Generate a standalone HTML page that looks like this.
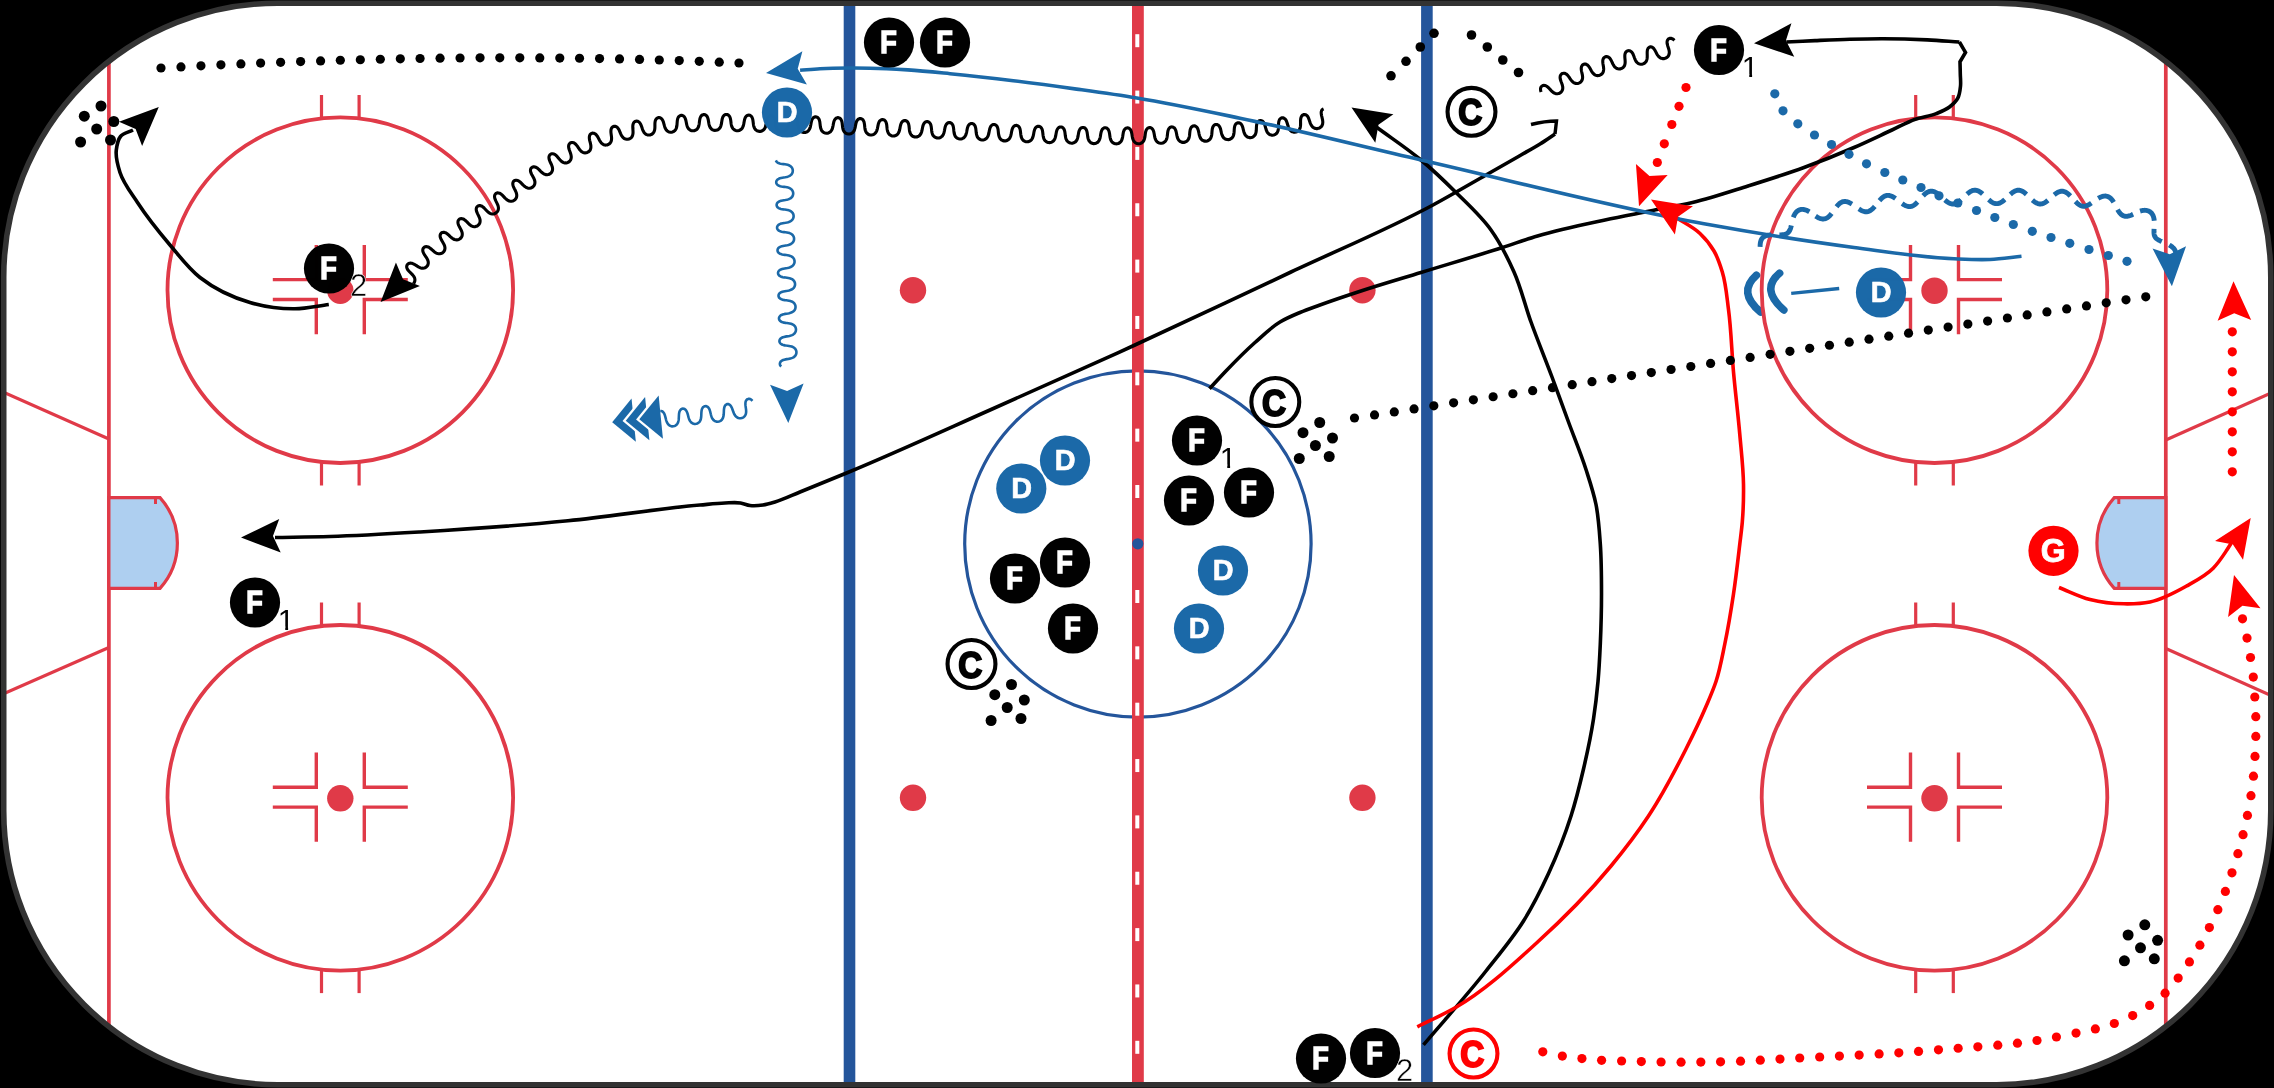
<!DOCTYPE html><html><head><meta charset="utf-8"><title>Hockey drill</title>
<style>html,body{margin:0;padding:0;background:#000;overflow:hidden;}svg{display:block;}text{font-family:"Liberation Sans",sans-serif;}</style></head><body>
<svg width="2274" height="1088" viewBox="0 0 2274 1088">
<rect width="2274" height="1088" fill="#000"/>
<defs><clipPath id="rc"><rect x="3.7" y="3.2" width="2267.1" height="1081.5" rx="274" ry="274"/></clipPath><clipPath id="c1"><path d="M0,-30H20V-3.1H10.3V2H7.45V-3.1H0Z"/></clipPath></defs>
<rect x="3.7" y="3.2" width="2267.1" height="1081.5" rx="274" ry="274" fill="#fff"/>
<g clip-path="url(#rc)">
<g stroke="#e03a48" stroke-width="3.7" fill="none">
<line x1="108.9" y1="0" x2="108.9" y2="1088"/>
<line x1="2165.8" y1="0" x2="2165.8" y2="1088"/>
</g>
<g stroke="#e03a48" stroke-width="3.2" fill="none">
<line x1="2" y1="391.5" x2="108.9" y2="439"/>
<line x1="2" y1="694.5" x2="108.9" y2="647.5"/>
<line x1="2165.8" y1="440" x2="2272" y2="392.5"/>
<line x1="2165.8" y1="648.5" x2="2272" y2="696"/>
</g>
<g stroke="#e03a48" stroke-width="3.2" fill="#aecff0" stroke-linejoin="miter">
<path d="M108.9,497.6L160,497.6A68,68 0 0 1 160,588.4L108.9,588.4Z"/>
<path d="M2165.8,497.6L2114.3,497.6A68,68 0 0 0 2114.3,588.4L2165.8,588.4Z"/>
</g>
<g stroke="#e03a48" stroke-width="3" fill="none">
<line x1="155.5" y1="497.5" x2="155.5" y2="504"/><line x1="155.5" y1="582" x2="155.5" y2="588.5"/>
<line x1="2118.8" y1="497.5" x2="2118.8" y2="504"/><line x1="2118.8" y1="582" x2="2118.8" y2="588.5"/>
</g>
<path d="M1756.5,275.2Q1737,292.4 1760.6,312" fill="none" stroke="#1b69a8" stroke-width="7.6" stroke-linecap="round"/>
<path d="M1779.6,273.2Q1760.1,289.4 1783.8,310" fill="none" stroke="#1b69a8" stroke-width="7.6" stroke-linecap="round"/>
<circle cx="340.3" cy="290.2" r="172.8" fill="none" stroke="#e03a48" stroke-width="3.8"/><g stroke="#e03a48" stroke-width="3.2" fill="none"><line x1="321.5" y1="94.9" x2="321.5" y2="117.4"/><line x1="321.5" y1="463" x2="321.5" y2="485.5"/><line x1="359.1" y1="94.9" x2="359.1" y2="117.4"/><line x1="359.1" y1="463" x2="359.1" y2="485.5"/></g><g stroke="#e03a48" stroke-width="3.4" fill="none"><path d="M272.8,279.65L316.3,279.65L316.3,245"/><path d="M272.8,299.55L316.3,299.55L316.3,334.2"/><path d="M407.8,279.65L364.3,279.65L364.3,245"/><path d="M407.8,299.55L364.3,299.55L364.3,334.2"/></g><circle cx="340.3" cy="290.7" r="13.2" fill="#e03a48"/>
<circle cx="340.3" cy="797.8" r="172.8" fill="none" stroke="#e03a48" stroke-width="3.8"/><g stroke="#e03a48" stroke-width="3.2" fill="none"><line x1="321.5" y1="602.5" x2="321.5" y2="625"/><line x1="321.5" y1="970.6" x2="321.5" y2="993.1"/><line x1="359.1" y1="602.5" x2="359.1" y2="625"/><line x1="359.1" y1="970.6" x2="359.1" y2="993.1"/></g><g stroke="#e03a48" stroke-width="3.4" fill="none"><path d="M272.8,787.25L316.3,787.25L316.3,752.6"/><path d="M272.8,807.15L316.3,807.15L316.3,841.8"/><path d="M407.8,787.25L364.3,787.25L364.3,752.6"/><path d="M407.8,807.15L364.3,807.15L364.3,841.8"/></g><circle cx="340.3" cy="798.3" r="13.2" fill="#e03a48"/>
<circle cx="1934.5" cy="290.2" r="172.8" fill="none" stroke="#e03a48" stroke-width="3.8"/><g stroke="#e03a48" stroke-width="3.2" fill="none"><line x1="1915.7" y1="94.9" x2="1915.7" y2="117.4"/><line x1="1915.7" y1="463" x2="1915.7" y2="485.5"/><line x1="1953.3" y1="94.9" x2="1953.3" y2="117.4"/><line x1="1953.3" y1="463" x2="1953.3" y2="485.5"/></g><g stroke="#e03a48" stroke-width="3.4" fill="none"><path d="M1867,279.65L1910.5,279.65L1910.5,245"/><path d="M1867,299.55L1910.5,299.55L1910.5,334.2"/><path d="M2002,279.65L1958.5,279.65L1958.5,245"/><path d="M2002,299.55L1958.5,299.55L1958.5,334.2"/></g><circle cx="1934.5" cy="290.7" r="13.2" fill="#e03a48"/>
<circle cx="1934.5" cy="797.8" r="172.8" fill="none" stroke="#e03a48" stroke-width="3.8"/><g stroke="#e03a48" stroke-width="3.2" fill="none"><line x1="1915.7" y1="602.5" x2="1915.7" y2="625"/><line x1="1915.7" y1="970.6" x2="1915.7" y2="993.1"/><line x1="1953.3" y1="602.5" x2="1953.3" y2="625"/><line x1="1953.3" y1="970.6" x2="1953.3" y2="993.1"/></g><g stroke="#e03a48" stroke-width="3.4" fill="none"><path d="M1867,787.25L1910.5,787.25L1910.5,752.6"/><path d="M1867,807.15L1910.5,807.15L1910.5,841.8"/><path d="M2002,787.25L1958.5,787.25L1958.5,752.6"/><path d="M2002,807.15L1958.5,807.15L1958.5,841.8"/></g><circle cx="1934.5" cy="798.3" r="13.2" fill="#e03a48"/>
<circle cx="913" cy="290.2" r="13.2" fill="#e03a48"/>
<circle cx="913" cy="797.8" r="13.2" fill="#e03a48"/>
<circle cx="1362.4" cy="290.2" r="13.2" fill="#e03a48"/>
<circle cx="1362.4" cy="797.8" r="13.2" fill="#e03a48"/>
<rect x="843.7" y="0" width="11.6" height="1088" fill="#24559b"/>
<rect x="1421.1" y="0" width="11.6" height="1088" fill="#24559b"/>
<circle cx="1137.9" cy="544" r="173.2" fill="none" stroke="#24559b" stroke-width="3.2"/>
<rect x="1132" y="0" width="11.8" height="1088" fill="#e03a48"/>
<g fill="#fff"><rect x="1135.3" y="590" width="4" height="13"/><rect x="1135.3" y="485" width="4" height="13"/><rect x="1135.3" y="646.35" width="4" height="13"/><rect x="1135.3" y="428.65" width="4" height="13"/><rect x="1135.3" y="702.7" width="4" height="13"/><rect x="1135.3" y="372.3" width="4" height="13"/><rect x="1135.3" y="759.05" width="4" height="13"/><rect x="1135.3" y="315.95" width="4" height="13"/><rect x="1135.3" y="815.4" width="4" height="13"/><rect x="1135.3" y="259.6" width="4" height="13"/><rect x="1135.3" y="871.75" width="4" height="13"/><rect x="1135.3" y="203.25" width="4" height="13"/><rect x="1135.3" y="928.1" width="4" height="13"/><rect x="1135.3" y="146.9" width="4" height="13"/><rect x="1135.3" y="984.45" width="4" height="13"/><rect x="1135.3" y="90.55" width="4" height="13"/><rect x="1135.3" y="1040.8" width="4" height="13"/><rect x="1135.3" y="34.2" width="4" height="13"/></g>
<circle cx="1137.8" cy="543.8" r="5.6" fill="#24559b"/>
</g>
<rect x="3.7" y="3.2" width="2267.1" height="1081.5" rx="274" ry="274" fill="none" stroke="#333" stroke-width="5.6"/>
<g fill="none" stroke-linecap="butt" stroke-linejoin="round">
<g fill="#000"><circle cx="161" cy="68" r="4.6"/><circle cx="180.97" cy="66.9" r="4.6"/><circle cx="200.94" cy="65.86" r="4.6"/><circle cx="220.92" cy="64.87" r="4.6"/><circle cx="240.9" cy="63.95" r="4.6"/><circle cx="260.63" cy="63.1" r="4.6"/><circle cx="280.61" cy="62.29" r="4.6"/><circle cx="300.6" cy="61.55" r="4.6"/><circle cx="320.59" cy="60.88" r="4.6"/><circle cx="340.33" cy="60.27" r="4.6"/><circle cx="360.32" cy="59.73" r="4.6"/><circle cx="380.31" cy="59.24" r="4.6"/><circle cx="400.31" cy="58.83" r="4.6"/><circle cx="420.06" cy="58.49" r="4.6"/><circle cx="440.06" cy="58.21" r="4.6"/><circle cx="460.05" cy="58" r="4.6"/><circle cx="480.05" cy="57.86" r="4.6"/><circle cx="499.8" cy="57.8" r="4.6"/><circle cx="519.8" cy="57.81" r="4.6"/><circle cx="539.8" cy="57.89" r="4.6"/><circle cx="559.8" cy="58.04" r="4.6"/><circle cx="579.55" cy="58.27" r="4.6"/><circle cx="599.55" cy="58.58" r="4.6"/><circle cx="619.55" cy="58.97" r="4.6"/><circle cx="639.54" cy="59.44" r="4.6"/><circle cx="659.28" cy="59.98" r="4.6"/><circle cx="679.27" cy="60.61" r="4.6"/><circle cx="699.26" cy="61.33" r="4.6"/><circle cx="719.24" cy="62.13" r="4.6"/><circle cx="738.97" cy="63" r="4.6"/></g>
<g fill="#000"><circle cx="101" cy="106" r="5.5"/><circle cx="84.3" cy="116.2" r="5.5"/><circle cx="113.8" cy="121.5" r="5.5"/><circle cx="96.7" cy="129" r="5.5"/><circle cx="80.6" cy="142" r="5.5"/><circle cx="110.5" cy="140" r="5.5"/></g>
<g fill="#000"><circle cx="1319.7" cy="422.5" r="5.5"/><circle cx="1303" cy="432.7" r="5.5"/><circle cx="1332.5" cy="438" r="5.5"/><circle cx="1315.4" cy="445.5" r="5.5"/><circle cx="1299.3" cy="458.5" r="5.5"/><circle cx="1329.2" cy="456.5" r="5.5"/></g>
<g fill="#000"><circle cx="1011.5" cy="684.5" r="5.5"/><circle cx="994.8" cy="694.7" r="5.5"/><circle cx="1024.3" cy="700" r="5.5"/><circle cx="1007.2" cy="707.5" r="5.5"/><circle cx="991.1" cy="720.5" r="5.5"/><circle cx="1021" cy="718.5" r="5.5"/></g>
<g fill="#000"><circle cx="2144.8" cy="924.8" r="5.5"/><circle cx="2128.1" cy="935" r="5.5"/><circle cx="2157.6" cy="940.3" r="5.5"/><circle cx="2140.5" cy="947.8" r="5.5"/><circle cx="2124.4" cy="960.8" r="5.5"/><circle cx="2154.3" cy="958.8" r="5.5"/></g>
<path d="M328.8,304.5C317.53,305.93 306.26,308.66 295,308.8C279.99,308.99 264.35,306.7 250,302.5C232.35,297.34 214.42,288.83 200,277.5C188.59,268.54 179.53,256.23 170,245C158.48,231.41 147.21,217.42 137.5,202.5C131.19,192.82 123.45,183.36 120,172.5C117.74,165.37 115.38,157.35 116.3,150C116.87,145.44 117.71,139.84 120.5,136.5C123.28,133.18 128.83,132.17 133,130" stroke="#000" stroke-width="3.6"/>

<path d="M1323.58,108.93L1322.82,109.24L1322.19,109.75L1321.7,110.44L1321.37,111.28L1321.21,112.27L1321.22,113.37L1321.36,114.57L1321.62,115.84L1321.95,117.17L1322.28,118.54L1322.56,119.93L1322.75,121.3L1322.78,122.65L1322.62,123.92L1322.24,125.12L1321.63,126.2L1320.81,127.11L1319.8,127.83L1318.66,128.34L1317.44,128.6L1316.19,128.6L1314.98,128.36L1313.84,127.86L1312.83,127.13L1311.95,126.2L1311.2,125.11L1310.59,123.89L1310.08,122.59L1309.63,121.27L1309.21,119.96L1308.77,118.71L1308.29,117.56L1307.73,116.56L1307.08,115.74L1306.34,115.11L1305.54,114.71L1304.7,114.53L1303.86,114.58L1303.05,114.87L1302.32,115.37L1301.71,116.06L1301.22,116.94L1300.88,117.97L1300.67,119.12L1300.58,120.38L1300.56,121.7L1300.58,123.06L1300.58,124.42L1300.51,125.76L1300.32,127.05L1299.99,128.26L1299.48,129.34L1298.79,130.29L1297.94,131.07L1296.94,131.66L1295.84,132.03L1294.69,132.19L1293.53,132.11L1292.42,131.8L1291.39,131.27L1290.47,130.54L1289.69,129.61L1289.03,128.54L1288.5,127.34L1288.05,126.07L1287.66,124.76L1287.29,123.46L1286.89,122.21L1286.43,121.06L1285.9,120.04L1285.27,119.19L1284.55,118.53L1283.76,118.08L1282.92,117.85L1282.07,117.85L1281.25,118.08L1280.5,118.52L1279.86,119.16L1279.34,119.99L1278.96,120.98L1278.71,122.1L1278.58,123.33L1278.53,124.64L1278.51,125.99L1278.48,127.36L1278.39,128.7L1278.19,130L1277.85,131.21L1277.34,132.3L1276.65,133.26L1275.8,134.04L1274.81,134.63L1273.72,135.02L1272.57,135.18L1271.42,135.11L1270.3,134.81L1269.27,134.29L1268.36,133.56L1267.57,132.65L1266.93,131.58L1266.4,130.39L1265.97,129.12L1265.61,127.8L1265.26,126.49L1264.9,125.22L1264.48,124.04L1263.99,122.99L1263.39,122.09L1262.7,121.38L1261.93,120.88L1261.1,120.59L1260.26,120.54L1259.42,120.71L1258.65,121.1L1257.97,121.69L1257.42,122.48L1256.99,123.44L1256.7,124.53L1256.52,125.75L1256.43,127.04L1256.38,128.39L1256.33,129.75L1256.22,131.1L1256.01,132.4L1255.67,133.62L1255.16,134.73L1254.48,135.69L1253.64,136.49L1252.66,137.09L1251.57,137.49L1250.42,137.66L1249.27,137.6L1248.15,137.32L1247.11,136.81L1246.19,136.09L1245.4,135.19L1244.76,134.13L1244.24,132.95L1243.83,131.67L1243.49,130.35L1243.17,129.03L1242.85,127.74L1242.47,126.54L1242.02,125.45L1241.46,124.51L1240.81,123.75L1240.06,123.19L1239.25,122.85L1238.4,122.73L1237.56,122.85L1236.77,123.18L1236.06,123.73L1235.46,124.47L1234.99,125.39L1234.65,126.45L1234.43,127.64L1234.29,128.92L1234.21,130.26L1234.13,131.62L1234,132.98L1233.78,134.28L1233.43,135.51L1232.93,136.63L1232.26,137.6L1231.43,138.41L1230.45,139.02L1229.37,139.43L1228.23,139.61L1227.07,139.57L1225.95,139.3L1224.91,138.8L1223.98,138.1L1223.19,137.21L1222.55,136.16L1222.03,134.98L1221.63,133.71L1221.31,132.39L1221.02,131.06L1220.73,129.76L1220.38,128.53L1219.96,127.41L1219.45,126.43L1218.82,125.63L1218.1,125.02L1217.3,124.63L1216.46,124.46L1215.61,124.52L1214.8,124.8L1214.07,125.3L1213.43,126L1212.93,126.88L1212.55,127.92L1212.28,129.09L1212.11,130.35L1212,131.68L1211.9,133.04L1211.76,134.39L1211.54,135.71L1211.19,136.94L1210.7,138.07L1210.04,139.06L1209.22,139.88L1208.26,140.52L1207.19,140.94L1206.05,141.15L1204.89,141.12L1203.77,140.87L1202.72,140.4L1201.78,139.71L1200.98,138.84L1200.33,137.81L1199.81,136.64L1199.42,135.38L1199.1,134.06L1198.83,132.72L1198.56,131.41L1198.24,130.16L1197.85,129.02L1197.36,128.01L1196.77,127.17L1196.07,126.52L1195.29,126.08L1194.45,125.86L1193.61,125.87L1192.78,126.1L1192.03,126.55L1191.37,127.21L1190.82,128.06L1190.41,129.07L1190.11,130.21L1189.91,131.46L1189.77,132.78L1189.65,134.13L1189.51,135.49L1189.28,136.81L1188.94,138.05L1188.46,139.2L1187.81,140.2L1187.01,141.04L1186.06,141.69L1184.99,142.14L1183.86,142.37L1182.7,142.36L1181.57,142.13L1180.51,141.68L1179.56,141.01L1178.75,140.16L1178.09,139.14L1177.57,137.99L1177.17,136.73L1176.87,135.41L1176.61,134.07L1176.36,132.75L1176.08,131.48L1175.72,130.31L1175.27,129.27L1174.7,128.39L1174.03,127.69L1173.27,127.2L1172.45,126.93L1171.6,126.89L1170.77,127.07L1169.99,127.48L1169.3,128.09L1168.73,128.9L1168.28,129.88L1167.94,130.99L1167.71,132.22L1167.54,133.53L1167.4,134.88L1167.24,136.23L1167.01,137.56L1166.67,138.81L1166.19,139.97L1165.56,140.99L1164.76,141.85L1163.82,142.52L1162.77,142.98L1161.64,143.22L1160.48,143.24L1159.34,143.03L1158.28,142.59L1157.32,141.95L1156.5,141.11L1155.83,140.11L1155.3,138.96L1154.91,137.71L1154.61,136.4L1154.37,135.05L1154.15,133.72L1153.89,132.44L1153.57,131.24L1153.15,130.17L1152.62,129.25L1151.98,128.51L1151.24,127.98L1150.43,127.66L1149.58,127.56L1148.74,127.69L1147.95,128.05L1147.23,128.62L1146.63,129.39L1146.14,130.33L1145.77,131.42L1145.5,132.63L1145.3,133.92L1145.14,135.26L1144.96,136.62L1144.72,137.94L1144.38,139.21L1143.91,140.37L1143.29,141.41L1142.5,142.28L1141.58,142.97L1140.53,143.45L1139.4,143.72L1138.24,143.75L1137.1,143.56L1136.03,143.14L1135.06,142.51L1134.23,141.69L1133.55,140.7L1133.02,139.57L1132.63,138.33L1132.34,137.02L1132.12,135.67L1131.92,134.33L1131.69,133.03L1131.4,131.81L1131.02,130.71L1130.53,129.76L1129.92,128.97L1129.21,128.39L1128.42,128.02L1127.58,127.87L1126.73,127.95L1125.92,128.25L1125.18,128.77L1124.54,129.5L1124.02,130.4L1123.61,131.46L1123.3,132.64L1123.07,133.92L1122.88,135.25L1122.68,136.6L1122.43,137.93L1122.09,139.21L1121.61,140.38L1120.99,141.43L1120.22,142.31L1119.3,143.02L1118.26,143.51L1117.14,143.79L1115.98,143.84L1114.84,143.67L1113.76,143.26L1112.78,142.65L1111.94,141.84L1111.26,140.87L1110.72,139.75L1110.33,138.51L1110.05,137.21L1109.85,135.86L1109.67,134.51L1109.48,133.2L1109.22,131.96L1108.88,130.83L1108.42,129.84L1107.84,129.02L1107.15,128.39L1106.38,127.97L1105.54,127.77L1104.69,127.79L1103.87,128.05L1103.11,128.52L1102.44,129.2L1101.88,130.07L1101.43,131.1L1101.1,132.26L1100.84,133.52L1100.62,134.85L1100.41,136.2L1100.15,137.53L1099.81,138.81L1099.35,139.99L1098.75,141.06L1097.99,141.96L1097.09,142.69L1096.06,143.21L1094.95,143.51L1093.8,143.59L1092.65,143.44L1091.56,143.07L1090.58,142.48L1089.72,141.7L1089.02,140.74L1088.47,139.64L1088.07,138.42L1087.78,137.12L1087.58,135.77L1087.41,134.42L1087.23,133.1L1087,131.84L1086.68,130.69L1086.24,129.67L1085.69,128.82L1085.02,128.15L1084.26,127.69L1083.43,127.45L1082.58,127.44L1081.75,127.65L1080.97,128.09L1080.28,128.73L1079.7,129.57L1079.23,130.57L1078.87,131.71L1078.59,132.95L1078.36,134.27L1078.15,135.62L1077.9,136.95L1077.57,138.24L1077.12,139.45L1076.53,140.53L1075.8,141.46L1074.91,142.21L1073.9,142.76L1072.8,143.1L1071.65,143.2L1070.49,143.08L1069.39,142.74L1068.39,142.18L1067.51,141.42L1066.79,140.49L1066.22,139.4L1065.81,138.2L1065.52,136.9L1065.31,135.56L1065.15,134.21L1064.99,132.88L1064.78,131.61L1064.48,130.43L1064.08,129.39L1063.55,128.5L1062.91,127.79L1062.17,127.29L1061.35,127L1060.51,126.94L1059.67,127.11L1058.87,127.5L1058.16,128.1L1057.55,128.9L1057.05,129.87L1056.67,130.99L1056.36,132.21L1056.12,133.52L1055.89,134.86L1055.64,136.2L1055.31,137.49L1054.87,138.71L1054.3,139.81L1053.58,140.76L1052.71,141.53L1051.71,142.11L1050.62,142.47L1049.47,142.61L1048.31,142.51L1047.21,142.19L1046.19,141.66L1045.3,140.92L1044.56,140.01L1043.97,138.94L1043.55,137.75L1043.25,136.47L1043.04,135.13L1042.89,133.77L1042.74,132.44L1042.56,131.15L1042.29,129.96L1041.91,128.88L1041.42,127.96L1040.8,127.22L1040.07,126.67L1039.27,126.34L1038.42,126.24L1037.58,126.36L1036.77,126.71L1036.04,127.27L1035.4,128.03L1034.88,128.97L1034.47,130.06L1034.14,131.27L1033.88,132.56L1033.64,133.9L1033.39,135.24L1033.06,136.54L1032.64,137.77L1032.08,138.89L1031.38,139.86L1030.53,140.66L1029.55,141.26L1028.46,141.65L1027.32,141.82L1026.17,141.75L1025.05,141.47L1024.02,140.96L1023.11,140.25L1022.35,139.36L1021.75,138.31L1021.3,137.14L1020.99,135.87L1020.78,134.53L1020.63,133.18L1020.5,131.83L1020.32,130.53L1020.08,129.32L1019.73,128.22L1019.26,127.27L1018.66,126.49L1017.96,125.91L1017.17,125.54L1016.33,125.39L1015.48,125.47L1014.66,125.78L1013.91,126.3L1013.25,127.03L1012.7,127.94L1012.27,129L1011.92,130.19L1011.65,131.47L1011.4,132.8L1011.14,134.14L1010.83,135.45L1010.42,136.69L1009.88,137.83L1009.2,138.83L1008.37,139.65L1007.41,140.28L1006.34,140.71L1005.2,140.9L1004.04,140.87L1002.92,140.62L1001.87,140.14L1000.94,139.46L1000.16,138.6L999.54,137.57L999.07,136.42L998.74,135.16L998.53,133.83L998.38,132.48L998.24,131.13L998.09,129.82L997.86,128.59L997.53,127.47L997.08,126.49L996.51,125.68L995.82,125.06L995.04,124.65L994.21,124.46L993.36,124.5L992.53,124.77L991.76,125.25L991.09,125.95L990.52,126.83L990.06,127.87L989.7,129.04L989.41,130.3L989.16,131.63L988.91,132.97L988.6,134.29L988.21,135.54L987.69,136.7L987.03,137.72L986.23,138.57L985.29,139.24L984.23,139.69L983.1,139.93L981.95,139.94L980.81,139.72L979.75,139.28L978.8,138.63L977.99,137.79L977.35,136.79L976.86,135.65L976.51,134.41L976.28,133.09L976.12,131.74L975.99,130.39L975.84,129.07L975.62,127.82L975.31,126.68L974.89,125.68L974.33,124.84L973.66,124.19L972.9,123.74L972.07,123.51L971.21,123.52L970.38,123.75L969.6,124.2L968.91,124.86L968.32,125.71L967.85,126.72L967.47,127.88L967.18,129.13L966.93,130.45L966.68,131.79L966.38,133.11L966.01,134.38L965.51,135.56L964.88,136.6L964.1,137.49L963.18,138.19L962.14,138.68L961.02,138.95L959.87,139L958.73,138.82L957.65,138.42L956.68,137.8L955.84,137L955.17,136.03L954.65,134.91L954.28,133.68L954.03,132.37L953.86,131.02L953.73,129.67L953.58,128.34L953.38,127.08L953.09,125.92L952.69,124.89L952.15,124.02L951.5,123.34L950.75,122.86L949.93,122.59L949.08,122.56L948.24,122.75L947.45,123.16L946.75,123.79L946.14,124.61L945.65,125.6L945.26,126.73L944.95,127.97L944.69,129.27L944.44,130.61L944.15,131.94L943.79,133.22L943.32,134.42L942.7,135.48L941.95,136.4L941.04,137.13L940.02,137.65L938.91,137.96L937.76,138.04L936.61,137.89L935.52,137.52L934.53,136.94L933.68,136.16L932.97,135.21L932.43,134.12L932.05,132.9L931.78,131.61L931.61,130.26L931.48,128.9L931.34,127.57L931.15,126.3L930.88,125.12L930.5,124.06L929.99,123.16L929.36,122.44L928.63,121.93L927.82,121.62L926.97,121.55L926.12,121.7L925.32,122.07L924.6,122.66L923.97,123.45L923.46,124.41L923.05,125.52L922.72,126.74L922.46,128.04L922.2,129.38L921.93,130.71L921.58,132L921.12,133.21L920.53,134.3L919.8,135.24L918.92,136L917.91,136.56L916.82,136.9L915.67,137.02L914.52,136.91L913.41,136.58L912.41,136.03L911.53,135.28L910.8,134.36L910.23,133.28L909.82,132.09L909.54,130.8L909.36,129.46L909.22,128.1L909.09,126.76L908.92,125.48L908.66,124.28L908.3,123.2L907.81,122.27L907.2,121.52L906.48,120.97L905.68,120.63L904.83,120.52L903.98,120.63L903.17,120.97L902.43,121.52L901.79,122.28L901.25,123.22L900.83,124.3L900.49,125.51L900.22,126.8L899.97,128.13L899.7,129.47L899.37,130.77L898.93,131.99L898.37,133.11L897.66,134.07L896.8,134.86L895.82,135.46L894.74,135.84L893.59,136L892.44,135.93L891.33,135.63L890.3,135.12L889.4,134.41L888.64,133.51L888.05,132.46L887.61,131.28L887.31,130.01L887.11,128.68L886.96,127.32L886.83,125.98L886.67,124.68L886.42,123.46L886.08,122.36L885.61,121.41L885.02,120.63L884.31,120.05L883.52,119.67L882.68,119.52L881.83,119.6L881.01,119.9L880.26,120.42L879.6,121.15L879.05,122.06L878.61,123.12L878.26,124.31L877.98,125.59L877.73,126.92L877.47,128.26L877.15,129.57L876.74,130.81L876.2,131.95L875.52,132.94L874.69,133.76L873.72,134.4L872.65,134.81L871.52,135.01L870.36,134.98L869.24,134.72L868.19,134.25L867.26,133.56L866.48,132.7L865.86,131.67L865.4,130.51L865.07,129.26L864.86,127.93L864.71,126.57L864.58,125.22L864.42,123.92L864.19,122.68L863.86,121.56L863.42,120.59L862.84,119.77L862.15,119.16L861.37,118.75L860.54,118.56L859.69,118.6L858.86,118.86L858.09,119.35L857.42,120.04L856.85,120.92L856.39,121.96L856.03,123.14L855.74,124.4L855.49,125.73L855.24,127.07L854.94,128.38L854.54,129.64L854.03,130.8L853.37,131.82L852.57,132.67L851.63,133.34L850.58,133.8L849.45,134.03L848.3,134.04L847.16,133.83L846.1,133.39L845.15,132.74L844.34,131.91L843.69,130.91L843.2,129.78L842.85,128.53L842.61,127.22L842.45,125.87L842.31,124.51L842.16,123.2L841.94,121.95L841.62,120.81L841.19,119.81L840.63,118.97L839.96,118.32L839.19,117.88L838.36,117.66L837.5,117.66L836.67,117.9L835.89,118.35L835.2,119.02L834.62,119.87L834.15,120.89L833.78,122.04L833.49,123.3L833.25,124.62L833.01,125.96L832.72,127.29L832.35,128.56L831.87,129.73L831.24,130.78L830.47,131.67L829.55,132.38L828.52,132.88L827.4,133.16L826.25,133.21L825.11,133.04L824.03,132.64L823.05,132.04L822.21,131.24L821.53,130.27L821.01,129.16L820.63,127.93L820.37,126.63L820.19,125.28L820.04,123.93L819.89,122.6L819.68,121.34L819.37,120.18L818.96,119.16L818.41,118.29L817.76,117.62L817,117.14L816.17,116.89L815.32,116.86L814.48,117.06L813.7,117.48L812.99,118.12L812.4,118.94L811.91,119.94L811.53,121.07L811.24,122.31L811,123.63L810.76,124.97L810.49,126.3L810.15,127.59L809.69,128.78L809.09,129.86L808.35,130.78L807.46,131.52L806.45,132.06L805.34,132.39L804.19,132.49L803.05,132.36L801.95,132L800.95,131.44L800.09,130.67L799.37,129.73L798.82,128.65L798.41,127.44L798.13,126.15L797.93,124.8L797.77,123.45L797.62,122.12L797.41,120.85L797.12,119.67L796.71,118.62L796.19,117.73L795.54,117.03L794.8,116.52L793.98,116.23L793.13,116.17L792.29,116.34L791.49,116.73L790.77,117.33L790.16,118.13L789.67,119.11L789.28,120.22L788.98,121.45L788.74,122.75L788.51,124.1L788.26,125.43L787.94,126.73L787.51,127.95L786.95,129.05L786.23,130L785.37,130.78L784.38,131.36L783.29,131.73L782.15,131.88L781,131.79L779.89,131.48L778.87,130.96L777.97,130.23L777.23,129.33L776.64,128.26L776.2,127.08L775.89,125.8L775.67,124.47L775.5,123.11L775.34,121.77L775.13,120.49L774.85,119.3L774.46,118.23L773.95,117.32L773.32,116.58L772.59,116.05L771.78,115.73L770.93,115.63L770.08,115.77L769.28,116.13L768.56,116.7L767.93,117.47L767.42,118.42L767.02,119.52L766.72,120.73L766.47,122.03L766.26,123.37L766.02,124.71L765.71,126.02L765.31,127.25L764.77,128.38L764.08,129.36L763.24,130.18L762.26,130.79L761.19,131.2L760.04,131.38L758.89,131.34L757.76,131.06L756.72,130.57L755.8,129.88L755.03,128.99L754.41,127.95L753.95,126.78L753.63,125.52L753.4,124.19L753.24,122.83L753.08,121.49L752.9,120.19L752.64,118.98L752.28,117.88L751.8,116.94L751.2,116.16L750.49,115.59L749.7,115.22L748.86,115.08L748.01,115.17L747.19,115.48L746.45,116.01L745.8,116.75L745.26,117.66L744.83,118.73L744.5,119.92L744.24,121.2L744,122.53L743.76,123.88L743.46,125.19L743.06,126.43L742.54,127.57L741.87,128.58L741.05,129.41L740.09,130.05L739.03,130.49L737.9,130.7L736.75,130.68L735.63,130.44L734.58,129.98L733.64,129.32L732.85,128.46L732.21,127.45L731.73,126.3L731.39,125.05L731.15,123.73L730.97,122.37L730.81,121.03L730.63,119.72L730.37,118.49L730.01,117.38L729.54,116.41L728.94,115.61L728.23,115.01L727.44,114.62L726.59,114.45L725.73,114.52L724.9,114.81L724.14,115.31L723.48,116.03L722.93,116.93L722.5,117.98L722.18,119.16L721.94,120.44L721.73,121.77L721.53,123.12L721.28,124.44L720.94,125.71L720.48,126.89L719.87,127.93L719.11,128.82L718.2,129.53L717.18,130.03L716.07,130.32L714.92,130.38L713.79,130.22L712.71,129.84L711.74,129.24L710.89,128.45L710.2,127.49L709.65,126.39L709.24,125.16L708.94,123.86L708.7,122.52L708.49,121.18L708.27,119.87L707.98,118.64L707.6,117.52L707.11,116.54L706.51,115.74L705.79,115.12L705,114.73L704.15,114.55L703.3,114.6L702.47,114.89L701.72,115.38L701.07,116.09L700.53,116.97L700.12,118.02L699.82,119.19L699.61,120.46L699.44,121.79L699.28,123.15L699.08,124.49L698.8,125.78L698.4,126.98L697.84,128.07L697.14,129L696.28,129.77L695.29,130.33L694.2,130.69L693.06,130.82L691.92,130.73L690.82,130.42L689.81,129.88L688.93,129.15L688.18,128.24L687.57,127.17L687.11,125.98L686.75,124.7L686.46,123.37L686.2,122.04L685.93,120.73L685.61,119.49L685.2,118.36L684.69,117.38L684.06,116.57L683.34,115.95L682.53,115.55L681.67,115.37L680.81,115.42L679.98,115.7L679.22,116.2L678.58,116.91L678.06,117.79L677.67,118.83L677.41,120L677.24,121.27L677.14,122.6L677.05,123.95L676.94,125.31L676.75,126.62L676.43,127.86L675.98,128.99L675.36,129.99L674.57,130.83L673.65,131.49L672.61,131.95L671.49,132.19L670.35,132.2L669.23,132L668.18,131.57L667.23,130.93L666.41,130.1L665.72,129.1L665.15,127.96L664.7,126.73L664.32,125.43L663.97,124.11L663.62,122.81L663.23,121.59L662.76,120.47L662.2,119.49L661.54,118.69L660.79,118.09L659.96,117.7L659.1,117.54L658.24,117.61L657.42,117.91L656.69,118.42L656.07,119.13L655.58,120.02L655.24,121.06L655.03,122.23L654.93,123.49L654.91,124.82L654.91,126.18L654.89,127.54L654.79,128.87L654.58,130.13L654.22,131.31L653.69,132.37L652.99,133.29L652.13,134.03L651.14,134.58L650.05,134.93L648.92,135.05L647.78,134.95L646.7,134.62L645.69,134.07L644.8,133.33L644.03,132.4L643.38,131.32L642.83,130.13L642.36,128.86L641.93,127.57L641.5,126.29L641.04,125.08L640.51,123.97L639.9,123L639.2,122.21L638.42,121.63L637.57,121.26L636.7,121.12L635.84,121.21L635.02,121.53L634.3,122.06L633.71,122.78L633.26,123.68L632.96,124.72L632.81,125.88L632.79,127.13L632.84,128.45L632.94,129.8L633.02,131.16L633.04,132.51L632.94,133.8L632.69,135.02L632.27,136.13L631.67,137.12L630.89,137.95L629.96,138.6L628.91,139.06L627.79,139.3L626.65,139.32L625.54,139.1L624.48,138.67L623.52,138.01L622.67,137.17L621.92,136.16L621.28,135.03L620.71,133.81L620.19,132.55L619.68,131.3L619.14,130.1L618.55,129.01L617.89,128.06L617.16,127.29L616.35,126.72L615.49,126.37L614.61,126.25L613.74,126.36L612.94,126.7L612.23,127.24L611.66,127.97L611.25,128.87L610.99,129.9L610.9,131.06L610.93,132.3L611.07,133.6L611.25,134.94L611.43,136.29L611.56,137.62L611.58,138.92L611.44,140.17L611.14,141.32L610.64,142.37L609.96,143.27L609.11,144.02L608.13,144.58L607.05,144.94L605.93,145.08L604.8,144.99L603.71,144.67L602.7,144.14L601.77,143.4L600.93,142.48L600.19,141.43L599.51,140.27L598.88,139.07L598.26,137.86L597.62,136.71L596.94,135.65L596.2,134.74L595.4,134.01L594.54,133.48L593.64,133.18L592.74,133.12L591.87,133.28L591.08,133.66L590.4,134.24L589.88,135L589.52,135.92L589.34,136.96L589.33,138.11L589.47,139.33L589.73,140.6L590.05,141.91L590.39,143.23L590.67,144.55L590.86,145.84L590.9,147.1L590.76,148.29L590.42,149.4L589.89,150.4L589.16,151.26L588.28,151.96L587.27,152.48L586.18,152.78L585.06,152.86L583.94,152.72L582.86,152.34L581.84,151.75L580.89,150.97L580.02,150.03L579.2,148.98L578.43,147.86L577.67,146.74L576.9,145.65L576.11,144.67L575.28,143.82L574.41,143.16L573.5,142.7L572.58,142.46L571.67,142.46L570.82,142.68L570.07,143.12L569.44,143.74L568.97,144.53L568.69,145.46L568.6,146.5L568.7,147.62L568.95,148.81L569.33,150.04L569.79,151.3L570.26,152.58L570.7,153.86L571.04,155.14L571.23,156.39L571.25,157.6L571.06,158.76L570.66,159.83L570.05,160.78L569.26,161.6L568.32,162.24L567.28,162.69L566.17,162.92L565.03,162.92L563.91,162.69L562.83,162.24L561.8,161.58L560.83,160.75L559.91,159.79L559.03,158.76L558.17,157.7L557.32,156.68L556.45,155.75L555.55,154.95L554.63,154.33L553.69,153.91L552.75,153.72L551.84,153.75L551,154.01L550.26,154.47L549.66,155.12L549.23,155.92L548.99,156.85L548.95,157.87L549.11,158.97L549.44,160.12L549.9,161.31L550.46,162.52L551.04,163.75L551.6,164.98L552.07,166.22L552.41,167.45L552.57,168.66L552.53,169.83L552.27,170.94L551.79,171.96L551.12,172.87L550.28,173.63L549.31,174.21L548.25,174.58L547.13,174.73L545.99,174.65L544.87,174.34L543.78,173.82L542.72,173.12L541.71,172.28L540.73,171.35L539.77,170.39L538.82,169.45L537.86,168.59L536.89,167.86L535.92,167.3L534.95,166.94L534,166.8L533.1,166.88L532.28,167.18L531.57,167.67L531.02,168.34L530.65,169.15L530.47,170.07L530.51,171.08L530.73,172.15L531.14,173.26L531.68,174.41L532.32,175.57L533,176.76L533.65,177.96L534.21,179.17L534.64,180.39L534.9,181.61L534.93,182.81L534.75,183.97L534.33,185.05L533.71,186.03L532.89,186.86L531.93,187.52L530.86,187.97L529.72,188.2L528.56,188.19L527.41,187.94L526.28,187.47L525.2,186.8L524.17,185.98L523.17,185.06L522.21,184.09L521.27,183.12L520.33,182.22L519.39,181.44L518.43,180.82L517.48,180.39L516.54,180.18L515.64,180.18L514.81,180.41L514.08,180.83L513.49,181.44L513.07,182.2L512.83,183.09L512.79,184.08L512.95,185.14L513.28,186.25L513.76,187.41L514.33,188.6L514.95,189.8L515.56,191.03L516.09,192.26L516.49,193.5L516.72,194.72L516.75,195.92L516.55,197.08L516.13,198.15L515.5,199.11L514.69,199.94L513.73,200.58L512.66,201.03L511.53,201.25L510.38,201.23L509.24,200.98L508.12,200.5L507.06,199.83L506.05,199L505.08,198.07L504.14,197.07L503.22,196.08L502.3,195.15L501.37,194.33L500.43,193.66L499.48,193.19L498.54,192.93L497.62,192.89L496.77,193.07L496,193.46L495.37,194.04L494.9,194.78L494.62,195.65L494.54,196.62L494.65,197.68L494.94,198.79L495.39,199.95L495.94,201.13L496.55,202.34L497.16,203.57L497.7,204.8L498.12,206.04L498.38,207.27L498.44,208.48L498.28,209.64L497.9,210.73L497.3,211.71L496.51,212.56L495.57,213.23L494.52,213.71L493.4,213.97L492.25,213.99L491.1,213.77L489.98,213.33L488.91,212.68L487.89,211.88L486.92,210.95L485.98,209.96L485.06,208.96L484.14,208.01L483.22,207.17L482.28,206.47L481.33,205.96L480.39,205.66L479.47,205.58L478.6,205.72L477.81,206.08L477.16,206.62L476.66,207.33L476.34,208.19L476.21,209.15L476.29,210.19L476.55,211.3L476.97,212.45L477.51,213.63L478.11,214.83L478.72,216.05L479.28,217.28L479.73,218.52L480.03,219.74L480.13,220.95L480.02,222.11L479.68,223.21L479.13,224.21L478.39,225.08L477.49,225.79L476.47,226.3L475.36,226.61L474.22,226.68L473.08,226.52L471.96,226.13L470.87,225.54L469.83,224.77L468.84,223.89L467.87,222.92L466.93,221.95L465.99,221.01L465.04,220.18L464.09,219.48L463.12,218.97L462.16,218.67L461.22,218.59L460.34,218.72L459.55,219.08L458.88,219.62L458.37,220.33L458.05,221.17L457.92,222.12L458,223.16L458.28,224.25L458.71,225.38L459.28,226.54L459.92,227.71L460.57,228.91L461.19,230.11L461.71,231.33L462.08,232.55L462.26,233.75L462.23,234.92L461.97,236.04L461.49,237.08L460.82,238L459.97,238.77L458.98,239.36L457.91,239.74L456.78,239.9L455.63,239.82L454.49,239.51L453.38,238.99L452.3,238.29L451.27,237.46L450.26,236.54L449.28,235.6L448.3,234.69L447.32,233.87L446.34,233.19L445.35,232.68L444.37,232.38L443.42,232.3L442.53,232.44L441.73,232.79L441.06,233.33L440.55,234.03L440.23,234.87L440.11,235.81L440.2,236.83L440.48,237.91L440.95,239.01L441.54,240.15L442.22,241.3L442.93,242.46L443.61,243.65L444.2,244.85L444.65,246.05L444.91,247.26L444.96,248.44L444.78,249.59L444.38,250.66L443.76,251.63L442.96,252.46L442.02,253.12L440.96,253.57L439.84,253.8L438.68,253.8L437.52,253.56L436.39,253.11L435.28,252.47L434.21,251.68L433.18,250.8L432.16,249.89L431.16,248.99L430.16,248.18L429.15,247.49L428.14,246.98L427.15,246.67L426.18,246.58L425.27,246.71L424.46,247.06L423.77,247.6L423.24,248.3L422.9,249.14L422.77,250.08L422.85,251.09L423.13,252.15L423.61,253.24L424.22,254.34L424.94,255.45L425.71,256.57L426.46,257.69L427.14,258.83L427.7,259.97L428.09,261.13L428.28,262.27L428.25,263.4L428.01,264.48L427.55,265.48L426.9,266.37L426.09,267.12L425.15,267.69L424.11,268.06L423.01,268.22L421.87,268.16L420.71,267.89L419.55,267.44L418.39,266.84L417.24,266.15L416.09,265.42L414.94,264.72L413.8,264.09L412.68,263.6L411.58,263.28L410.52,263.15L409.53,263.25L408.64,263.55L407.88,264.05L407.29,264.71L406.89,265.51L406.7,266.41L406.74,267.36L407.01,268.34L407.49,269.33L408.16,270.3L408.99,271.25L409.93,272.2L410.91,273.14L411.89,274.1L412.81,275.08L413.61,276.11L414.25,277.18L414.69,278.3L414.9,279.44L414.88,280.59L414.62,281.7L414.13,282.74L413.45,283.67" stroke="#000" stroke-width="3.1"/>

<path d="M775.9,160.38L776.24,161.18L776.8,161.91L777.56,162.53L778.5,163.05L779.6,163.44L780.83,163.74L782.15,163.96L783.52,164.13L784.92,164.31L786.3,164.53L787.62,164.84L788.86,165.27L789.98,165.84L790.94,166.56L791.72,167.43L792.3,168.42L792.66,169.51L792.8,170.64L792.7,171.79L792.38,172.89L791.84,173.9L791.09,174.8L790.15,175.55L789.06,176.16L787.84,176.64L786.53,176.99L785.15,177.26L783.77,177.49L782.4,177.72L781.09,177.98L779.87,178.32L778.79,178.76L777.87,179.31L777.13,179.96L776.6,180.71L776.29,181.52L776.21,182.37L776.36,183.21L776.73,184L777.33,184.71L778.12,185.32L779.09,185.82L780.21,186.19L781.45,186.47L782.78,186.68L784.17,186.86L785.56,187.04L786.94,187.27L788.25,187.6L789.47,188.05L790.56,188.64L791.49,189.39L792.24,190.28L792.79,191.29L793.11,192.39L793.21,193.53L793.08,194.67L792.71,195.76L792.14,196.76L791.35,197.63L790.39,198.36L789.28,198.95L788.04,199.4L786.71,199.74L785.34,200L783.95,200.23L782.59,200.46L781.29,200.73L780.1,201.09L779.04,201.54L778.14,202.11L777.44,202.78L776.94,203.54L776.67,204.36L776.63,205.21L776.82,206.04L777.23,206.82L777.86,207.52L778.68,208.11L779.68,208.59L780.83,208.95L782.09,209.21L783.43,209.41L784.82,209.58L786.21,209.77L787.58,210.01L788.88,210.36L790.08,210.83L791.14,211.45L792.05,212.22L792.76,213.13L793.27,214.16L793.56,215.27L793.62,216.41L793.45,217.55L793.06,218.62L792.44,219.6L791.63,220.45L790.64,221.16L789.5,221.72L788.25,222.16L786.91,222.48L785.53,222.74L784.14,222.96L782.79,223.2L781.51,223.48L780.34,223.86L779.3,224.33L778.44,224.92L777.77,225.61L777.32,226.38L777.08,227.21L777.08,228.06L777.31,228.89L777.76,229.65L778.42,230.33L779.28,230.9L780.3,231.36L781.47,231.7L782.74,231.95L784.1,232.14L785.49,232.31L786.88,232.5L788.24,232.75L789.53,233.11L790.71,233.61L791.75,234.25L792.62,235.05L793.31,235.98L793.79,237.02L794.04,238.14L794.06,239.28L793.86,240.41L793.42,241.47L792.78,242.43L791.94,243.26L790.92,243.95L789.76,244.49L788.49,244.91L787.15,245.22L785.76,245.47L784.38,245.69L783.04,245.94L781.77,246.24L780.62,246.63L779.61,247.13L778.78,247.73L778.15,248.44L777.73,249.23L777.54,250.06L777.57,250.91L777.84,251.73L778.33,252.48L779.03,253.14L779.91,253.69L780.97,254.12L782.15,254.45L783.44,254.68L784.81,254.86L786.2,255.03L787.59,255.23L788.94,255.5L790.21,255.88L791.37,256.39L792.39,257.06L793.24,257.88L793.89,258.83L794.33,259.89L794.55,261.01L794.53,262.16L794.29,263.28L793.82,264.33L793.14,265.27L792.27,266.08L791.23,266.74L790.05,267.26L788.77,267.66L787.41,267.96L786.03,268.2L784.65,268.43L783.31,268.68L782.07,269L780.94,269.4L779.96,269.92L779.16,270.54L778.56,271.26L778.18,272.06L778.02,272.9L778.1,273.74L778.41,274.56L778.93,275.3L779.66,275.94L780.58,276.47L781.65,276.88L782.86,277.19L784.17,277.41L785.54,277.58L786.93,277.75L788.32,277.96L789.66,278.25L790.91,278.65L792.05,279.19L793.04,279.88L793.86,280.72L794.48,281.7L794.88,282.77L795.06,283.9L795.01,285.05L794.72,286.16L794.22,287.19L793.51,288.11L792.6,288.9L791.54,289.53L790.34,290.03L789.04,290.41L787.68,290.7L786.29,290.93L784.91,291.16L783.59,291.42L782.36,291.75L781.26,292.17L780.31,292.7L779.54,293.34L778.97,294.08L778.63,294.88L778.51,295.73L778.62,296.57L778.97,297.37L779.53,298.1L780.29,298.72L781.23,299.23L782.33,299.63L783.56,299.92L784.88,300.13L786.25,300.31L787.65,300.48L789.03,300.7L790.36,301L791.59,301.43L792.71,302L793.67,302.72L794.45,303.58L795.04,304.58L795.4,305.66L795.54,306.8L795.45,307.94L795.13,309.04L794.58,310.06L793.84,310.96L792.91,311.72L791.81,312.33L790.59,312.8L789.28,313.16L787.91,313.44L786.52,313.67L785.15,313.89L783.84,314.16L782.63,314.5L781.55,314.94L780.63,315.49L779.89,316.15L779.36,316.9L779.05,317.71L778.97,318.56L779.12,319.39L779.5,320.18L780.1,320.9L780.89,321.5L781.86,322L782.98,322.37L784.23,322.65L785.56,322.86L786.94,323.03L788.34,323.21L789.71,323.44L791.02,323.76L792.24,324.21L793.33,324.81L794.27,325.55L795.02,326.44L795.56,327.45L795.89,328.55L795.99,329.69L795.86,330.83L795.5,331.92L794.92,332.92L794.14,333.79L793.18,334.53L792.07,335.11L790.83,335.57L789.5,335.91L788.13,336.17L786.74,336.4L785.38,336.63L784.08,336.91L782.89,337.26L781.83,337.72L780.94,338.28L780.23,338.96L779.74,339.72L779.47,340.54L779.43,341.39L779.62,342.22L780.03,343L780.66,343.7L781.48,344.29L782.48,344.76L783.62,345.12L784.88,345.38L786.23,345.58L787.61,345.75L789.01,345.94L790.38,346.18L791.68,346.52L792.88,347L793.94,347.62L794.85,348.39L795.56,349.3L796.08,350.33L796.37,351.44L796.43,352.58L796.26,353.71L795.86,354.79L795.25,355.77L794.43,356.62L793.45,357.33L792.31,357.89L791.05,358.33L789.72,358.65L788.34,358.91L786.95,359.13L785.6,359.37L784.31,359.66L783.14,360.03L782.11,360.5L781.25,361.09L780.58,361.78L780.12,362.55L779.89,363.38L779.88,364.23L780.11,365.05L780.56,365.82L781.22,366.5" stroke="#1b69a8" stroke-width="2.6"/>

<path d="M612.2,422.2L631.54,398.47L635.84,441.65Z" fill="#1b69a8" stroke="#fff" stroke-width="4.6" paint-order="stroke" stroke-linejoin="miter"/>
<path d="M625.75,420.7L645.09,396.97L649.39,440.15Z" fill="#1b69a8" stroke="#fff" stroke-width="4.6" paint-order="stroke" stroke-linejoin="miter"/>
<path d="M639.3,419.2L658.64,395.47L662.94,438.65Z" fill="#1b69a8" stroke="#fff" stroke-width="4.6" paint-order="stroke" stroke-linejoin="miter"/>
<path d="M752.46,400.86L751.71,400.03L750.91,399.4L750.05,398.99L749.18,398.82L748.33,398.87L747.53,399.15L746.83,399.64L746.24,400.32L745.81,401.18L745.53,402.19L745.41,403.33L745.43,404.56L745.55,405.88L745.73,407.24L745.93,408.63L746.09,410.02L746.15,411.39L746.07,412.71L745.82,413.96L745.38,415.1L744.74,416.12L743.92,416.97L742.94,417.63L741.84,418.08L740.68,418.3L739.49,418.29L738.34,418.03L737.25,417.54L736.27,416.82L735.4,415.91L734.66,414.84L734.03,413.63L733.5,412.35L733.02,411.03L732.57,409.72L732.11,408.47L731.61,407.32L731.05,406.3L730.42,405.45L729.71,404.79L728.95,404.35L728.14,404.12L727.34,404.12L726.56,404.34L725.85,404.77L725.23,405.41L724.73,406.23L724.36,407.22L724.11,408.35L723.95,409.59L723.87,410.92L723.83,412.29L723.76,413.69L723.64,415.07L723.42,416.39L723.05,417.64L722.53,418.76L721.85,419.74L721,420.55L720.02,421.15L718.93,421.55L717.79,421.72L716.64,421.66L715.52,421.36L714.49,420.85L713.57,420.13L712.78,419.21L712.13,418.14L711.6,416.94L711.18,415.64L710.83,414.29L710.51,412.93L710.18,411.6L709.81,410.34L709.36,409.19L708.82,408.18L708.17,407.35L707.43,406.72L706.62,406.31L705.77,406.13L704.91,406.18L704.09,406.46L703.34,406.96L702.7,407.67L702.19,408.56L701.81,409.6L701.56,410.78L701.42,412.06L701.35,413.42L701.3,414.81L701.24,416.2L701.11,417.57L700.88,418.88L700.49,420.09L699.95,421.18L699.24,422.12L698.38,422.89L697.38,423.46L696.29,423.81L695.15,423.94L694,423.84L692.9,423.51L691.89,422.96L690.99,422.2L690.21,421.25L689.57,420.15L689.05,418.93L688.62,417.63L688.25,416.28L687.91,414.93L687.55,413.63L687.13,412.41L686.64,411.32L686.06,410.38L685.38,409.62L684.62,409.07L683.8,408.74L682.95,408.64L682.12,408.77L681.33,409.13L680.63,409.69L680.05,410.46L679.59,411.4L679.26,412.49L679.05,413.7L678.94,415L678.88,416.37L678.82,417.77L678.73,419.16L678.56,420.5L678.26,421.78L677.82,422.95L677.2,423.99L676.43,424.87L675.5,425.56L674.46,426.05L673.34,426.32L672.19,426.35L671.06,426.16L669.99,425.74L669.02,425.1L668.17,424.27L667.45,423.26L666.86,422.1L666.39,420.84L666,419.52L665.67,418.16L665.33,416.82L664.97,415.53L664.55,414.35L664.04,413.29L663.43,412.41L662.73,411.71L661.94,411.22L661.11,410.96L660.26,410.93" stroke="#1b69a8" stroke-width="2.6"/>
<path d="M1531,124.5Q1545,121 1556.5,121L1555,134" stroke="#000" stroke-width="3.4" stroke-linejoin="miter"/>
<path d="M1555,134C1550,137.33 1545.09,140.81 1540,144C1533.8,147.88 1527.34,151.35 1521,155C1509.36,161.71 1497.68,168.35 1486,175C1468.36,185.04 1450.86,195.37 1433,205C1386.95,229.82 1338.37,249.74 1291,272C1239.38,296.26 1187.86,320.76 1136,344.5C1087.5,366.7 1038.75,388.35 990,410C943.08,430.84 896.4,452.27 849,472C832.71,478.78 816.36,485.41 800,492C791.67,495.35 783.59,499.46 775,502C771.05,503.17 767.06,504.41 763,505C758.73,505.62 754.25,506.06 750,505.5C746.79,505.08 743.71,503.51 740.5,503C735.44,502.2 730.16,502.84 725,503C716.65,503.25 708.33,504.28 700,505C655.85,508.81 612.09,516.44 568,520.8C518.78,525.67 469.38,529.05 420,532C390.02,533.79 360.02,535.59 330,536.5C311.67,537.05 293.33,537.17 275,537.5" stroke="#000" stroke-width="3.6"/>

<path d="M1209.5,388.8C1214.67,383.2 1219.74,377.51 1225,372C1234.68,361.86 1244.52,351.8 1255,342.5C1263.05,335.35 1270.84,327.52 1280,322C1286.28,318.22 1293.21,315.37 1300,312.5C1306.55,309.73 1313.31,307.44 1320,305C1334.06,299.88 1348.27,295.15 1362.5,290.5C1381.89,284.16 1401.5,278.49 1421,272.5C1448.16,264.15 1475.45,256.21 1502.5,247.5C1514.19,243.74 1525.74,239.49 1537.5,236C1559.65,229.44 1582.4,224.85 1605,220C1619.95,216.79 1635,214 1650,211C1664.17,208.17 1678.47,205.88 1692.5,202.5C1711.24,197.98 1729.59,191.77 1748,186C1766.76,180.12 1785.55,174.26 1804,167.5C1820.85,161.33 1837.54,154.64 1854,147.5C1866.79,141.95 1879.34,135.85 1892,130C1899.77,126.41 1907.26,122.04 1915.3,119.2C1922.1,116.79 1929.61,116.28 1936.3,113.6C1940.84,111.78 1945.66,109.96 1949.5,107C1952.64,104.58 1955.97,101.63 1957.8,98.2C1959.68,94.69 1960.09,90.18 1960.5,86.1C1960.9,82.11 1960.38,78.03 1960.3,74C1960.22,69.93 1960.1,65.87 1960,61.8L1965.5,52.4L1959.4,42" stroke="#000" stroke-width="3.6" stroke-linejoin="miter"/>
<path d="M1959.4,42C1948.73,41.3 1938.07,40.43 1927.4,39.9C1912.62,39.17 1897.8,38.74 1883,38.7C1872,38.67 1861,38.9 1850,39.2C1838.33,39.52 1826.66,40.08 1815,40.6C1805.43,41.03 1795.87,41.53 1786.3,42" stroke="#000" stroke-width="3.6"/>

<path d="M1423.5,1044.8C1444.33,1020.2 1466.07,996.32 1486,971C1498.88,954.64 1512.5,938.62 1523.5,921C1532.94,905.87 1541.01,889.72 1548.5,873.5C1557.12,854.84 1564.74,835.57 1571,816C1575.93,800.58 1579.82,784.78 1583.5,769C1587.36,752.46 1590.92,735.79 1593.5,719C1595.41,706.57 1596.87,694.03 1598,681.5C1599.13,669.03 1599.73,656.51 1600.3,644C1601.05,627.35 1601.5,610.67 1601.5,594C1601.5,577.33 1601.48,560.61 1600.3,544C1599.36,530.8 1598.58,517.44 1596,504.5C1593.63,492.64 1589.69,481.05 1586,469.5C1580.86,453.44 1574.32,437.84 1568.5,422C1562.99,407 1557.59,391.97 1552,377C1545.13,358.62 1537.64,340.46 1531,322C1525.04,305.44 1521.13,288.02 1514,272C1507.54,257.47 1500.22,242.87 1491,230C1481.12,216.21 1468.11,204.55 1456,192.5C1444.72,181.28 1433.2,170.19 1421,160C1407.03,148.33 1391.67,138.33 1377,127.5" stroke="#000" stroke-width="3.6"/>

<path d="M1417.3,1026.8C1430.2,1020.3 1443.58,1014.55 1456,1007.3C1485.33,990.19 1510.77,966.35 1536,943.5C1562.59,919.42 1588.17,893.69 1611,866C1624.23,849.96 1637.04,833.35 1648.5,816C1662.57,794.69 1674.49,771.84 1686,749C1693.04,735.02 1699.87,720.9 1706,706.5C1709.51,698.24 1713.19,690 1716,681.5C1720.01,669.34 1722.18,656.56 1724.8,644C1728.25,627.45 1730.99,610.73 1733.5,594C1735.99,577.39 1737.84,560.68 1739.8,544C1740.66,536.67 1741.69,529.35 1742.3,522C1743.34,509.55 1743.67,496.99 1743.5,484.5C1743.28,467.81 1741.23,451.15 1739.8,434.5C1738.01,413.64 1735.38,392.85 1733.5,372C1731.62,351.19 1731.25,330.2 1728.5,309.5C1726.83,296.95 1725.99,284.05 1722.3,272C1720.11,264.84 1717.74,257.44 1714,251C1710.29,244.61 1705.34,238.59 1700,233.5C1693.12,226.94 1684,222.83 1676,217.5" stroke="#ff0000" stroke-width="3.6"/>

<path d="M2021.5,256.3C2011,257.37 2000.52,259.03 1990,259.5C1978.03,260.04 1965.98,259.33 1954,258.8C1920.52,257.33 1887.25,251.85 1854,247.5C1803.82,240.93 1753.79,232.81 1704,223.8C1608.89,206.59 1515.26,181.57 1421,160C1360.64,146.19 1300.61,130.83 1240,118.2C1205.69,111.05 1171.37,103.72 1136.8,98C1116.79,94.69 1096.69,91.92 1076.6,89.1C1055.52,86.14 1034.43,83.27 1013.3,80.7C992.23,78.14 971.13,75.78 950,73.7C935.94,72.32 921.89,70.85 907.8,69.9C900.74,69.42 893.67,69 886.6,68.7C873.98,68.16 861.33,67.9 848.7,68C839.13,68.08 829.55,68.27 820,68.8C813.36,69.17 806.73,69.8 800.1,70.3" stroke="#1b69a8" stroke-width="3.6"/>

<g fill="#000"><circle cx="1391" cy="75.8" r="4.8"/><circle cx="1406" cy="61.3" r="4.8"/><circle cx="1420.3" cy="47" r="4.8"/><circle cx="1434" cy="33.3" r="4.8"/><circle cx="1471.5" cy="35" r="4.8"/><circle cx="1487.3" cy="47" r="4.8"/><circle cx="1502.8" cy="60" r="4.8"/><circle cx="1518.5" cy="72.5" r="4.8"/></g>
<path d="M1674.44,40.43L1673.61,39.62L1672.74,38.98L1671.84,38.55L1670.94,38.33L1670.06,38.33L1669.24,38.55L1668.5,38.97L1667.9,39.57L1667.44,40.34L1667.16,41.23L1667.06,42.24L1667.12,43.33L1667.35,44.5L1667.68,45.71L1668.08,46.96L1668.5,48.24L1668.88,49.52L1669.17,50.81L1669.3,52.08L1669.26,53.31L1669,54.48L1668.53,55.56L1667.85,56.53L1666.98,57.34L1665.96,57.98L1664.83,58.42L1663.65,58.62L1662.45,58.59L1661.3,58.31L1660.21,57.81L1659.22,57.09L1658.33,56.19L1657.55,55.15L1656.86,54.02L1656.24,52.84L1655.65,51.67L1655.07,50.55L1654.46,49.52L1653.83,48.62L1653.14,47.88L1652.4,47.34L1651.62,46.99L1650.84,46.85L1650.06,46.91L1649.33,47.18L1648.68,47.65L1648.14,48.29L1647.71,49.11L1647.42,50.06L1647.25,51.14L1647.19,52.32L1647.19,53.58L1647.22,54.88L1647.24,56.2L1647.2,57.51L1647.05,58.78L1646.76,59.98L1646.31,61.08L1645.69,62.04L1644.9,62.86L1643.98,63.5L1642.94,63.94L1641.83,64.18L1640.69,64.21L1639.58,64.01L1638.53,63.61L1637.57,63L1636.73,62.2L1636,61.24L1635.39,60.16L1634.86,58.97L1634.4,57.74L1633.97,56.49L1633.52,55.28L1633.03,54.13L1632.46,53.11L1631.82,52.23L1631.08,51.52L1630.27,51.02L1629.4,50.73L1628.52,50.67L1627.66,50.82L1626.87,51.19L1626.17,51.76L1625.6,52.51L1625.19,53.41L1624.93,54.45L1624.81,55.6L1624.82,56.83L1624.9,58.11L1625.02,59.43L1625.13,60.76L1625.16,62.06L1625.09,63.32L1624.87,64.52L1624.48,65.62L1623.9,66.6L1623.16,67.44L1622.26,68.12L1621.24,68.61L1620.15,68.9L1619.02,68.98L1617.91,68.83L1616.84,68.47L1615.86,67.9L1614.97,67.14L1614.19,66.21L1613.5,65.15L1612.89,63.99L1612.32,62.79L1611.77,61.59L1611.2,60.43L1610.59,59.36L1609.92,58.43L1609.18,57.65L1608.37,57.08L1607.51,56.71L1606.63,56.56L1605.76,56.64L1604.95,56.93L1604.23,57.42L1603.63,58.1L1603.18,58.94L1602.89,59.92L1602.77,61.01L1602.79,62.19L1602.92,63.43L1603.12,64.72L1603.35,66.03L1603.54,67.34L1603.65,68.63L1603.63,69.88L1603.44,71.07L1603.08,72.17L1602.52,73.15L1601.78,74.01L1600.89,74.7L1599.87,75.2L1598.78,75.51L1597.65,75.6L1596.53,75.47L1595.45,75.11L1594.45,74.55L1593.54,73.79L1592.72,72.88L1591.98,71.83L1591.3,70.7L1590.66,69.54L1590.03,68.38L1589.38,67.29L1588.69,66.31L1587.95,65.47L1587.14,64.81L1586.29,64.35L1585.41,64.1L1584.53,64.08L1583.69,64.28L1582.93,64.68L1582.28,65.27L1581.78,66.03L1581.43,66.94L1581.26,67.96L1581.25,69.09L1581.38,70.28L1581.61,71.53L1581.9,72.81L1582.2,74.1L1582.44,75.39L1582.59,76.66L1582.59,77.89L1582.42,79.05L1582.06,80.13L1581.51,81.1L1580.78,81.94L1579.9,82.63L1578.9,83.13L1577.83,83.44L1576.71,83.53L1575.61,83.4L1574.54,83.06L1573.53,82.5L1572.6,81.76L1571.73,80.87L1570.93,79.86L1570.17,78.77L1569.43,77.68L1568.69,76.61L1567.92,75.62L1567.11,74.77L1566.25,74.07L1565.36,73.58L1564.44,73.29L1563.53,73.24L1562.65,73.4L1561.85,73.77L1561.17,74.33L1560.64,75.06L1560.28,75.93L1560.11,76.92L1560.12,77.99L1560.31,79.14L1560.63,80.32L1561.05,81.54L1561.52,82.78L1561.98,84.02L1562.37,85.26L1562.65,86.49L1562.77,87.69L1562.71,88.85L1562.45,89.94L1561.98,90.95L1561.32,91.84L1560.5,92.59L1559.55,93.18L1558.51,93.57L1557.42,93.75L1556.31,93.71L1555.21,93.45L1554.14,92.98L1553.12,92.33L1552.15,91.53L1551.22,90.61L1550.32,89.65L1549.43,88.67L1548.54,87.75L1547.64,86.93L1546.72,86.25L1545.79,85.75L1544.85,85.45L1543.92,85.37L1543.05,85.5L1542.25,85.85L1541.57,86.38L1541.03,87.07L1540.67,87.9L1540.51,88.84L1540.53,89.86L1540.75,90.93L1541.12,92.04" stroke="#000" stroke-width="3.1"/>
<g fill="#ff0000"><circle cx="1686" cy="87.5" r="4.6"/><circle cx="1679" cy="106.3" r="4.6"/><circle cx="1671.8" cy="124.5" r="4.6"/><circle cx="1664.3" cy="143.8" r="4.6"/><circle cx="1657.3" cy="162.5" r="4.6"/></g>

<g fill="#1b69a8"><circle cx="1774.8" cy="93.8" r="4.6"/><circle cx="1783" cy="110.8" r="4.6"/><circle cx="1797.8" cy="123.8" r="4.6"/><circle cx="1814.5" cy="135" r="4.6"/><circle cx="1831.5" cy="144.5" r="4.6"/><circle cx="1849" cy="154.3" r="4.6"/><circle cx="1866.5" cy="163.8" r="4.6"/><circle cx="1884.8" cy="172.5" r="4.6"/><circle cx="1902.8" cy="180" r="4.6"/><circle cx="1921" cy="187.5" r="4.6"/><circle cx="1939" cy="195.8" r="4.6"/><circle cx="1957.8" cy="203" r="4.6"/><circle cx="1976.5" cy="210.5" r="4.6"/><circle cx="1994.8" cy="217.5" r="4.6"/><circle cx="2013.3" cy="224.5" r="4.6"/><circle cx="2032.3" cy="231.3" r="4.6"/><circle cx="2051" cy="237.5" r="4.6"/><circle cx="2069.8" cy="243.3" r="4.6"/><circle cx="2089" cy="249.5" r="4.6"/><circle cx="2108.3" cy="255.5" r="4.6"/><circle cx="2127" cy="261.3" r="4.6"/></g>
<path d="M1760.1,246.88L1760.11,246.07L1760.14,245.28L1760.19,244.5L1760.26,243.75L1760.36,243.01L1760.48,242.3L1760.64,241.62L1760.83,240.96L1761.05,240.34L1761.31,239.75L1761.6,239.19L1761.94,238.67L1762.31,238.18L1762.72,237.73L1763.18,237.31L1763.67,236.93L1764.2,236.59L1764.77,236.28L1765.37,236L1766.01,235.76L1766.67,235.55L1767.37,235.37L1768.09,235.21L1768.84,235.09L1769.6,234.99L1770.39,234.91L1771.19,234.86M1779.43,234.88L1780.21,234.87L1780.97,234.85L1781.71,234.81L1782.43,234.75L1783.12,234.67L1783.79,234.57L1784.43,234.44L1785.04,234.28L1785.62,234.09L1786.18,233.87L1786.7,233.61L1787.2,233.32L1787.66,232.99L1788.09,232.62L1788.49,232.22L1788.87,231.77L1789.21,231.29L1789.53,230.77L1789.82,230.21L1790.09,229.61L1790.33,228.99L1790.56,228.33L1790.77,227.64L1790.97,226.92L1791.16,226.18L1791.33,225.42M1793.33,217.32L1793.62,216.54L1793.93,215.78L1794.27,215.05L1794.65,214.35L1795.05,213.68L1795.49,213.05L1795.96,212.45L1796.45,211.9L1796.98,211.4L1797.54,210.95L1798.12,210.55L1798.73,210.2L1799.37,209.92L1800.02,209.69L1800.7,209.52L1801.39,209.42L1802.09,209.37L1802.81,209.39L1803.53,209.46L1804.26,209.59L1804.99,209.77L1805.72,210L1806.46,210.28L1807.19,210.6L1807.91,210.96L1808.63,211.35L1809.35,211.77M1815.6,216.09L1816.28,216.53L1816.96,216.95L1817.63,217.34L1818.3,217.7L1818.97,218.02L1819.62,218.29L1820.28,218.53L1820.93,218.71L1821.57,218.85L1822.2,218.94L1822.83,218.98L1823.45,218.98L1824.06,218.92L1824.66,218.82L1825.26,218.67L1825.84,218.46L1826.41,218.21L1826.97,217.91L1827.52,217.56L1828.07,217.17L1828.6,216.74L1829.12,216.27L1829.63,215.76L1830.14,215.21L1830.64,214.64L1831.14,214.03L1831.63,213.41M1836.52,206.72L1837.02,206.11L1837.53,205.52L1838.04,204.95L1838.56,204.43L1839.09,203.93L1839.62,203.48L1840.17,203.07L1840.72,202.7L1841.27,202.38L1841.84,202.1L1842.42,201.88L1843,201.7L1843.6,201.57L1844.2,201.5L1844.81,201.48L1845.42,201.5L1846.05,201.58L1846.68,201.7L1847.32,201.87L1847.97,202.08L1848.63,202.33L1849.28,202.63L1849.95,202.96L1850.62,203.32L1851.29,203.71L1851.97,204.13M1858.76,208.86L1859.43,209.29L1860.09,209.7L1860.75,210.08L1861.41,210.43L1862.06,210.75L1862.7,211.02L1863.34,211.26L1863.97,211.46L1864.59,211.61L1865.21,211.72L1865.82,211.77L1866.42,211.78L1867.02,211.74L1867.6,211.65L1868.19,211.51L1868.76,211.32L1869.33,211.08L1869.89,210.79L1870.45,210.46L1871,210.09L1871.54,209.67L1872.08,209.21L1872.62,208.72L1873.15,208.19L1873.68,207.63L1874.21,207.05L1874.73,206.44M1879.43,200.63L1879.96,200.03L1880.49,199.45L1881.03,198.89L1881.57,198.37L1882.12,197.88L1882.67,197.43L1883.23,197.02L1883.79,196.65L1884.36,196.32L1884.93,196.04L1885.51,195.81L1886.09,195.63L1886.69,195.5L1887.28,195.42L1887.89,195.39L1888.5,195.42L1889.11,195.49L1889.73,195.61L1890.36,195.77L1890.99,195.99L1891.63,196.24L1892.27,196.54L1892.91,196.87L1893.56,197.24L1894.21,197.64L1894.87,198.07L1895.52,198.53M1902.12,203.52L1902.77,203.97L1903.42,204.4L1904.06,204.79L1904.7,205.16L1905.33,205.48L1905.96,205.77L1906.59,206.02L1907.21,206.23L1907.82,206.39L1908.43,206.5L1909.04,206.57L1909.64,206.58L1910.23,206.55L1910.82,206.46L1911.41,206.33L1911.99,206.14L1912.56,205.91L1913.13,205.63L1913.7,205.31L1914.26,204.94L1914.82,204.53L1915.37,204.08L1915.93,203.6L1916.48,203.08L1917.03,202.54L1917.58,201.97M1923.09,195.79L1923.65,195.22L1924.21,194.68L1924.78,194.16L1925.36,193.67L1925.93,193.23L1926.51,192.82L1927.1,192.45L1927.68,192.12L1928.27,191.84L1928.87,191.61L1929.47,191.43L1930.07,191.3L1930.68,191.22L1931.29,191.19L1931.9,191.22L1932.51,191.29L1933.13,191.42L1933.75,191.59L1934.37,191.82L1934.99,192.08L1935.62,192.4L1936.24,192.75L1936.87,193.14L1937.49,193.57L1938.12,194.02L1938.74,194.51L1939.37,195.02M1944.94,199.99L1945.56,200.51L1946.17,201L1946.77,201.47L1947.38,201.91L1947.99,202.31L1948.59,202.68L1949.19,203.01L1949.8,203.3L1950.4,203.54L1951,203.73L1951.59,203.88L1952.19,203.98L1952.79,204.03L1953.38,204.03L1953.98,203.98L1954.57,203.87L1955.17,203.72L1955.76,203.52L1956.35,203.28L1956.95,202.98L1957.54,202.65L1958.13,202.27L1958.72,201.86L1959.32,201.41L1959.91,200.93L1960.5,200.42L1961.1,199.89M1967.04,194.14L1967.63,193.61L1968.23,193.12L1968.82,192.65L1969.42,192.21L1970.01,191.81L1970.61,191.45L1971.21,191.13L1971.8,190.86L1972.4,190.63L1973,190.45L1973.6,190.31L1974.2,190.23L1974.8,190.2L1975.4,190.22L1976,190.29L1976.6,190.41L1977.21,190.58L1977.81,190.79L1978.41,191.06L1979.02,191.36L1979.62,191.71L1980.22,192.1L1980.83,192.53L1981.43,192.99L1982.04,193.47L1982.64,193.99M1988.68,199.65L1989.28,200.17L1989.88,200.67L1990.48,201.15L1991.08,201.59L1991.68,201.99L1992.28,202.36L1992.87,202.68L1993.47,202.97L1994.07,203.2L1994.67,203.4L1995.27,203.54L1995.87,203.63L1996.46,203.67L1997.06,203.66L1997.66,203.6L1998.26,203.5L1998.86,203.34L1999.45,203.13L2000.05,202.88L2000.65,202.58L2001.25,202.24L2001.85,201.86L2002.45,201.44L2003.05,200.99L2003.65,200.51L2004.25,200L2004.85,199.47M2010.28,194.35L2010.89,193.82L2011.49,193.31L2012.1,192.83L2012.7,192.38L2013.31,191.97L2013.91,191.6L2014.51,191.26L2015.12,190.97L2015.72,190.72L2016.32,190.52L2016.92,190.37L2017.52,190.26L2018.12,190.21L2018.72,190.21L2019.32,190.26L2019.92,190.36L2020.52,190.5L2021.12,190.7L2021.72,190.95L2022.31,191.23L2022.91,191.57L2023.51,191.94L2024.1,192.35L2024.7,192.8L2025.29,193.27L2025.89,193.78L2026.49,194.31M2032.44,200.05L2033.03,200.57L2033.62,201.07L2034.22,201.54L2034.81,201.98L2035.4,202.38L2036,202.74L2036.59,203.06L2037.18,203.33L2037.78,203.56L2038.37,203.75L2038.96,203.88L2039.56,203.96L2040.15,204L2040.75,203.98L2041.34,203.91L2041.94,203.8L2042.54,203.63L2043.13,203.42L2043.73,203.17L2044.33,202.87L2044.94,202.52L2045.54,202.14L2046.15,201.73L2046.75,201.28L2047.36,200.8L2047.97,200.3M2054.18,194.82L2054.81,194.32L2055.44,193.85L2056.06,193.4L2056.69,192.99L2057.31,192.62L2057.94,192.28L2058.56,191.99L2059.18,191.74L2059.8,191.54L2060.41,191.38L2061.03,191.28L2061.63,191.23L2062.24,191.22L2062.84,191.27L2063.44,191.37L2064.04,191.52L2064.63,191.72L2065.22,191.96L2065.8,192.25L2066.39,192.59L2066.97,192.97L2067.54,193.38L2068.12,193.84L2068.69,194.32L2069.26,194.84L2069.83,195.39L2070.39,195.96M2075.44,201.44L2076,202.01L2076.56,202.56L2077.12,203.08L2077.68,203.57L2078.24,204.03L2078.8,204.45L2079.36,204.84L2079.93,205.18L2080.49,205.48L2081.06,205.73L2081.63,205.94L2082.21,206.1L2082.78,206.21L2083.36,206.27L2083.95,206.28L2084.54,206.24L2085.13,206.15L2085.73,206.02L2086.33,205.84L2086.94,205.62L2087.56,205.36L2088.18,205.06L2088.8,204.72L2089.44,204.35L2090.08,203.95L2090.73,203.53L2091.38,203.08M2098.2,198.36L2098.9,197.96L2099.6,197.58L2100.29,197.24L2100.99,196.94L2101.69,196.68L2102.37,196.46L2103.06,196.28L2103.73,196.15L2104.4,196.08L2105.06,196.05L2105.71,196.07L2106.35,196.15L2106.97,196.28L2107.58,196.46L2108.18,196.69L2108.76,196.98L2109.32,197.32L2109.87,197.71L2110.4,198.14L2110.91,198.62L2111.41,199.14L2111.89,199.7L2112.36,200.29L2112.81,200.92L2113.25,201.58L2113.67,202.26M2117.6,209.62L2118,210.31L2118.41,210.99L2118.83,211.64L2119.27,212.25L2119.71,212.84L2120.18,213.39L2120.65,213.9L2121.15,214.36L2121.65,214.79L2122.18,215.16L2122.72,215.48L2123.27,215.76L2123.84,215.97L2124.43,216.14L2125.03,216.25L2125.65,216.32L2126.28,216.33L2126.92,216.29L2127.57,216.21L2128.23,216.09L2128.9,215.92L2129.58,215.71L2130.28,215.47L2130.98,215.2L2131.69,214.9L2132.4,214.58L2133.13,214.24M2140.07,211.17L2140.88,210.92L2141.68,210.71L2142.49,210.54L2143.28,210.41L2144.07,210.34L2144.85,210.31L2145.61,210.33L2146.35,210.41L2147.07,210.55L2147.77,210.74L2148.44,210.98L2149.08,211.28L2149.69,211.63L2150.26,212.03L2150.8,212.47L2151.3,212.97L2151.77,213.5L2152.19,214.08L2152.57,214.7L2152.91,215.35L2153.21,216.04L2153.47,216.76L2153.69,217.5L2153.88,218.27L2154.03,219.06L2154.14,219.86L2154.23,220.69M2154.08,228.96L2154.03,229.72L2154,230.47L2153.98,231.19L2153.97,231.89L2153.98,232.56L2154.02,233.2L2154.08,233.82L2154.17,234.41L2154.29,234.98L2154.44,235.51L2154.63,236.02L2154.85,236.51L2155.11,236.97L2155.4,237.41L2155.74,237.82L2156.11,238.22L2156.52,238.6L2156.97,238.96L2157.46,239.31L2157.99,239.65L2158.55,239.98L2159.14,240.29L2159.76,240.61L2160.42,240.92L2161.1,241.22L2161.8,241.53M2169.27,245L2169.97,245.42L2170.65,245.85L2171.3,246.3L2171.91,246.76L2172.49,247.24L2173.03,247.73L2173.53,248.23L2173.98,248.74L2174.38,249.27L2174.72,249.81L2175.02,250.38L2175.26,250.95L2175.45,251.55L2175.59,252.15L2175.67,252.78L2175.71,253.41L2175.7,254.06L2175.64,254.72L2175.54,255.38L2175.39,256.06" stroke="#1b69a8" stroke-width="4.9"/>

<line x1="1791.2" y1="293.4" x2="1839.2" y2="288.5" stroke="#1b69a8" stroke-width="3.3"/>
<g fill="#000"><circle cx="1354.5" cy="418" r="4.6"/><circle cx="1374.52" cy="414.93" r="4.6"/><circle cx="1394.29" cy="411.91" r="4.6"/><circle cx="1414.06" cy="408.88" r="4.6"/><circle cx="1433.82" cy="405.85" r="4.6"/><circle cx="1453.59" cy="402.82" r="4.6"/><circle cx="1473.36" cy="399.79" r="4.6"/><circle cx="1493.13" cy="396.77" r="4.6"/><circle cx="1512.9" cy="393.74" r="4.6"/><circle cx="1532.67" cy="390.71" r="4.6"/><circle cx="1552.44" cy="387.68" r="4.6"/><circle cx="1572.21" cy="384.65" r="4.6"/><circle cx="1591.98" cy="381.63" r="4.6"/><circle cx="1611.75" cy="378.6" r="4.6"/><circle cx="1631.52" cy="375.57" r="4.6"/><circle cx="1651.29" cy="372.54" r="4.6"/><circle cx="1671.06" cy="369.51" r="4.6"/><circle cx="1690.83" cy="366.49" r="4.6"/><circle cx="1710.6" cy="363.46" r="4.6"/><circle cx="1730.37" cy="360.43" r="4.6"/><circle cx="1750.14" cy="357.4" r="4.6"/><circle cx="1770.15" cy="354.34" r="4.6"/><circle cx="1789.92" cy="351.31" r="4.6"/><circle cx="1809.69" cy="348.28" r="4.6"/><circle cx="1829.46" cy="345.25" r="4.6"/><circle cx="1849.23" cy="342.22" r="4.6"/><circle cx="1869" cy="339.2" r="4.6"/><circle cx="1888.77" cy="336.17" r="4.6"/><circle cx="1908.54" cy="333.14" r="4.6"/><circle cx="1928.31" cy="330.11" r="4.6"/><circle cx="1948.08" cy="327.08" r="4.6"/><circle cx="1967.85" cy="324.06" r="4.6"/><circle cx="1987.62" cy="321.03" r="4.6"/><circle cx="2007.39" cy="318" r="4.6"/><circle cx="2027.16" cy="314.97" r="4.6"/><circle cx="2046.93" cy="311.94" r="4.6"/><circle cx="2066.69" cy="308.92" r="4.6"/><circle cx="2086.46" cy="305.89" r="4.6"/><circle cx="2106.23" cy="302.86" r="4.6"/><circle cx="2126" cy="299.83" r="4.6"/><circle cx="2145.77" cy="296.8" r="4.6"/></g>
<g fill="#ff0000"><circle cx="2232.3" cy="331.8" r="4.6"/><circle cx="2232.3" cy="351.8" r="4.6"/><circle cx="2232.3" cy="371.8" r="4.6"/><circle cx="2232.3" cy="391.8" r="4.6"/><circle cx="2232.3" cy="411.8" r="4.6"/><circle cx="2232.3" cy="431.8" r="4.6"/><circle cx="2232.3" cy="451.8" r="4.6"/><circle cx="2232.3" cy="471.8" r="4.6"/></g>

<path d="M2059,587.5C2069.33,591.5 2079.34,596.78 2090,599.5C2100.99,602.3 2112.63,603.63 2124,603.8C2132.65,603.93 2141.61,603.73 2150,602C2162.93,599.33 2175.17,592.43 2186.8,585.9C2196,580.73 2205.82,575.61 2213.2,568.2C2218.32,563.06 2222.43,556.72 2226.5,550.6C2228.05,548.27 2229.5,545.87 2231,543.5" stroke="#ff0000" stroke-width="3.6"/>

<g fill="#ff0000"><circle cx="1542.8" cy="1051.8" r="4.6"/><circle cx="1562.33" cy="1056.09" r="4.6"/><circle cx="1581.92" cy="1058.55" r="4.6"/><circle cx="1601.59" cy="1060.31" r="4.6"/><circle cx="1621.58" cy="1061.02" r="4.6"/><circle cx="1641.32" cy="1061.61" r="4.6"/><circle cx="1661.07" cy="1062.01" r="4.6"/><circle cx="1681.07" cy="1062.17" r="4.6"/><circle cx="1700.82" cy="1062.1" r="4.6"/><circle cx="1720.56" cy="1061.79" r="4.6"/><circle cx="1740.55" cy="1061.13" r="4.6"/><circle cx="1760.28" cy="1060.17" r="4.6"/><circle cx="1780" cy="1059.08" r="4.6"/><circle cx="1799.72" cy="1058" r="4.6"/><circle cx="1819.69" cy="1057" r="4.6"/><circle cx="1839.42" cy="1056.03" r="4.6"/><circle cx="1859.15" cy="1055.04" r="4.6"/><circle cx="1879.12" cy="1053.97" r="4.6"/><circle cx="1898.83" cy="1052.78" r="4.6"/><circle cx="1918.54" cy="1051.43" r="4.6"/><circle cx="1938.47" cy="1049.85" r="4.6"/><circle cx="1958.16" cy="1048.27" r="4.6"/><circle cx="1977.85" cy="1046.8" r="4.6"/><circle cx="1997.79" cy="1045.16" r="4.6"/><circle cx="2017.43" cy="1043.16" r="4.6"/><circle cx="2037.01" cy="1040.51" r="4.6"/><circle cx="2056.43" cy="1036.98" r="4.6"/><circle cx="2076.04" cy="1033.04" r="4.6"/><circle cx="2095.35" cy="1028.91" r="4.6"/><circle cx="2114.34" cy="1023.51" r="4.6"/><circle cx="2132.7" cy="1015.62" r="4.6"/><circle cx="2149.61" cy="1005.45" r="4.6"/><circle cx="2165.09" cy="993.2" r="4.6"/><circle cx="2178.18" cy="978.12" r="4.6"/><circle cx="2189.44" cy="961.89" r="4.6"/><circle cx="2199.9" cy="945.15" r="4.6"/><circle cx="2209.39" cy="927.54" r="4.6"/><circle cx="2217.84" cy="909.7" r="4.6"/><circle cx="2225.38" cy="891.45" r="4.6"/><circle cx="2231.97" cy="872.83" r="4.6"/><circle cx="2237.88" cy="853.72" r="4.6"/><circle cx="2243.05" cy="834.66" r="4.6"/><circle cx="2247.42" cy="815.4" r="4.6"/><circle cx="2250.97" cy="795.72" r="4.6"/><circle cx="2253.47" cy="776.13" r="4.6"/><circle cx="2254.99" cy="756.45" r="4.6"/><circle cx="2255.8" cy="736.46" r="4.6"/><circle cx="2255.8" cy="716.71" r="4.6"/><circle cx="2254.81" cy="696.99" r="4.6"/><circle cx="2253.31" cy="677.05" r="4.6"/><circle cx="2250.5" cy="657.5" r="4.6"/><circle cx="2247.01" cy="638.06" r="4.6"/><circle cx="2242.51" cy="618.84" r="4.6"/></g>

<path d="M158.8,107L142.14,146.06L135.62,129.06L118.97,121.72Z" fill="#000"/><path d="M380.6,302L395.94,262.4L403.02,279.17L419.91,285.95Z" fill="#000"/><path d="M788.3,423L770.02,384.67L787.08,391.02L803.6,383.39Z" fill="#1b69a8"/><path d="M241,537.5L279.22,518.99L272.97,536.08L280.71,552.56Z" fill="#000"/><path d="M1754,43.3L1791.45,23.28L1785.89,40.61L1794.27,56.76Z" fill="#000"/><path d="M1351.5,107.5L1393.41,114.37L1378.45,124.75L1375.3,142.67Z" fill="#000"/><path d="M1651,199.5L1692.93,206.24L1678.01,216.67L1674.9,234.6Z" fill="#ff0000"/><path d="M766,73L802.41,51.15L797.71,68.73L806.89,84.45Z" fill="#1b69a8"/><path d="M1639,206.3L1635.94,163.95L1649.51,176.07L1667.67,174.98Z" fill="#ff0000"/><path d="M2171.9,286.3L2152.54,248.51L2169.77,254.37L2186.06,246.27Z" fill="#1b69a8"/><path d="M2233.5,281.3L2251.2,319.9L2234.24,313.29L2217.61,320.68Z" fill="#ff0000"/><path d="M2250.7,518L2243.02,559.76L2232.93,544.61L2215.07,541.11Z" fill="#ff0000"/><path d="M2234,575L2260.51,608.17L2242.46,605.86L2228.1,617.05Z" fill="#ff0000"/>
</g>
<g opacity="0.999">
<circle cx="889" cy="42.5" r="25.1" fill="#000"/><text transform="translate(888.4,53.1) scale(0.875,1)" font-size="30.8" font-weight="700" fill="#fff" stroke="#fff" stroke-width="1.6" stroke-linejoin="miter" text-anchor="middle">F</text>
<circle cx="945" cy="42.5" r="25.1" fill="#000"/><text transform="translate(944.4,53.1) scale(0.875,1)" font-size="30.8" font-weight="700" fill="#fff" stroke="#fff" stroke-width="1.6" stroke-linejoin="miter" text-anchor="middle">F</text>
<circle cx="787" cy="112.5" r="25.1" fill="#1b69a8"/><text transform="translate(787.25,121.9) scale(1.0,1)" font-size="28.8" font-weight="700" fill="#fff" stroke="#fff" stroke-width="0.6" stroke-linejoin="miter" text-anchor="middle">D</text>
<circle cx="329" cy="268.5" r="25.1" fill="#000"/><text transform="translate(328.4,279.1) scale(0.875,1)" font-size="30.8" font-weight="700" fill="#fff" stroke="#fff" stroke-width="1.6" stroke-linejoin="miter" text-anchor="middle">F</text><text transform="translate(350,296.2)" font-size="31" fill="#000" stroke="#fff" stroke-width="0.5">2</text>
<circle cx="255" cy="602.5" r="25.1" fill="#000"/><text transform="translate(254.4,613.1) scale(0.875,1)" font-size="30.8" font-weight="700" fill="#fff" stroke="#fff" stroke-width="1.6" stroke-linejoin="miter" text-anchor="middle">F</text><text transform="translate(277.8,629.5)" clip-path="url(#c1)" font-size="30" fill="#000">1</text>
<circle cx="1021.3" cy="488.5" r="25.1" fill="#1b69a8"/><text transform="translate(1021.55,497.9) scale(1.0,1)" font-size="28.8" font-weight="700" fill="#fff" stroke="#fff" stroke-width="0.6" stroke-linejoin="miter" text-anchor="middle">D</text>
<circle cx="1065" cy="460.5" r="25.1" fill="#1b69a8"/><text transform="translate(1065.25,469.9) scale(1.0,1)" font-size="28.8" font-weight="700" fill="#fff" stroke="#fff" stroke-width="0.6" stroke-linejoin="miter" text-anchor="middle">D</text>
<circle cx="1015" cy="578.5" r="25.1" fill="#000"/><text transform="translate(1014.4,589.1) scale(0.875,1)" font-size="30.8" font-weight="700" fill="#fff" stroke="#fff" stroke-width="1.6" stroke-linejoin="miter" text-anchor="middle">F</text>
<circle cx="1065" cy="562.5" r="25.1" fill="#000"/><text transform="translate(1064.4,573.1) scale(0.875,1)" font-size="30.8" font-weight="700" fill="#fff" stroke="#fff" stroke-width="1.6" stroke-linejoin="miter" text-anchor="middle">F</text>
<circle cx="1073" cy="628.5" r="25.1" fill="#000"/><text transform="translate(1072.4,639.1) scale(0.875,1)" font-size="30.8" font-weight="700" fill="#fff" stroke="#fff" stroke-width="1.6" stroke-linejoin="miter" text-anchor="middle">F</text>
<circle cx="1197" cy="440.5" r="25.1" fill="#000"/><text transform="translate(1196.4,451.1) scale(0.875,1)" font-size="30.8" font-weight="700" fill="#fff" stroke="#fff" stroke-width="1.6" stroke-linejoin="miter" text-anchor="middle">F</text><text transform="translate(1219.8,467.5)" clip-path="url(#c1)" font-size="30" fill="#000">1</text>
<circle cx="1189" cy="500.5" r="25.1" fill="#000"/><text transform="translate(1188.4,511.1) scale(0.875,1)" font-size="30.8" font-weight="700" fill="#fff" stroke="#fff" stroke-width="1.6" stroke-linejoin="miter" text-anchor="middle">F</text>
<circle cx="1249" cy="492.5" r="25.1" fill="#000"/><text transform="translate(1248.4,503.1) scale(0.875,1)" font-size="30.8" font-weight="700" fill="#fff" stroke="#fff" stroke-width="1.6" stroke-linejoin="miter" text-anchor="middle">F</text>
<circle cx="1223" cy="570.5" r="25.1" fill="#1b69a8"/><text transform="translate(1223.25,579.9) scale(1.0,1)" font-size="28.8" font-weight="700" fill="#fff" stroke="#fff" stroke-width="0.6" stroke-linejoin="miter" text-anchor="middle">D</text>
<circle cx="1199" cy="628.5" r="25.1" fill="#1b69a8"/><text transform="translate(1199.25,637.9) scale(1.0,1)" font-size="28.8" font-weight="700" fill="#fff" stroke="#fff" stroke-width="0.6" stroke-linejoin="miter" text-anchor="middle">D</text>
<circle cx="1275.3" cy="402" r="23.95" fill="#fff" stroke="#000" stroke-width="4.1"/><text transform="translate(1274.1,415.5) scale(0.9,1)" font-size="37" font-weight="700" fill="#000" stroke="#000" stroke-width="2.0" stroke-linejoin="miter" text-anchor="middle">C</text>
<circle cx="971.5" cy="664" r="23.95" fill="#fff" stroke="#000" stroke-width="4.1"/><text transform="translate(970.3,677.5) scale(0.9,1)" font-size="37" font-weight="700" fill="#000" stroke="#000" stroke-width="2.0" stroke-linejoin="miter" text-anchor="middle">C</text>
<circle cx="1471.5" cy="111.8" r="23.95" fill="#fff" stroke="#000" stroke-width="4.1"/><text transform="translate(1470.3,125.3) scale(0.9,1)" font-size="37" font-weight="700" fill="#000" stroke="#000" stroke-width="2.0" stroke-linejoin="miter" text-anchor="middle">C</text>
<circle cx="1719" cy="50" r="25.1" fill="#000"/><text transform="translate(1718.4,60.6) scale(0.875,1)" font-size="30.8" font-weight="700" fill="#fff" stroke="#fff" stroke-width="1.6" stroke-linejoin="miter" text-anchor="middle">F</text><text transform="translate(1741.8,77)" clip-path="url(#c1)" font-size="30" fill="#000">1</text>
<circle cx="1881" cy="292.5" r="25.1" fill="#1b69a8"/><text transform="translate(1881.25,301.9) scale(1.0,1)" font-size="28.8" font-weight="700" fill="#fff" stroke="#fff" stroke-width="0.6" stroke-linejoin="miter" text-anchor="middle">D</text>
<circle cx="2053.5" cy="550.8" r="25.1" fill="#ff0000"/><text transform="translate(2053.1,561.95) scale(0.99,1)" font-size="32.4" font-weight="700" fill="#fff" stroke="#fff" stroke-width="0.8" stroke-linejoin="miter" text-anchor="middle">G</text>
<circle cx="1321" cy="1058.5" r="25.1" fill="#000"/><text transform="translate(1320.4,1069.1) scale(0.875,1)" font-size="30.8" font-weight="700" fill="#fff" stroke="#fff" stroke-width="1.6" stroke-linejoin="miter" text-anchor="middle">F</text>
<circle cx="1375" cy="1053" r="25.1" fill="#000"/><text transform="translate(1374.4,1063.6) scale(0.875,1)" font-size="30.8" font-weight="700" fill="#fff" stroke="#fff" stroke-width="1.6" stroke-linejoin="miter" text-anchor="middle">F</text><text transform="translate(1396,1080.7)" font-size="31" fill="#000" stroke="#fff" stroke-width="0.5">2</text>
<circle cx="1473.5" cy="1053.5" r="23.95" fill="#fff" stroke="#ff0000" stroke-width="4.1"/><text transform="translate(1472.3,1067) scale(0.9,1)" font-size="37" font-weight="700" fill="#ff0000" stroke="#ff0000" stroke-width="2.0" stroke-linejoin="miter" text-anchor="middle">C</text>
</g>
</svg></body></html>
